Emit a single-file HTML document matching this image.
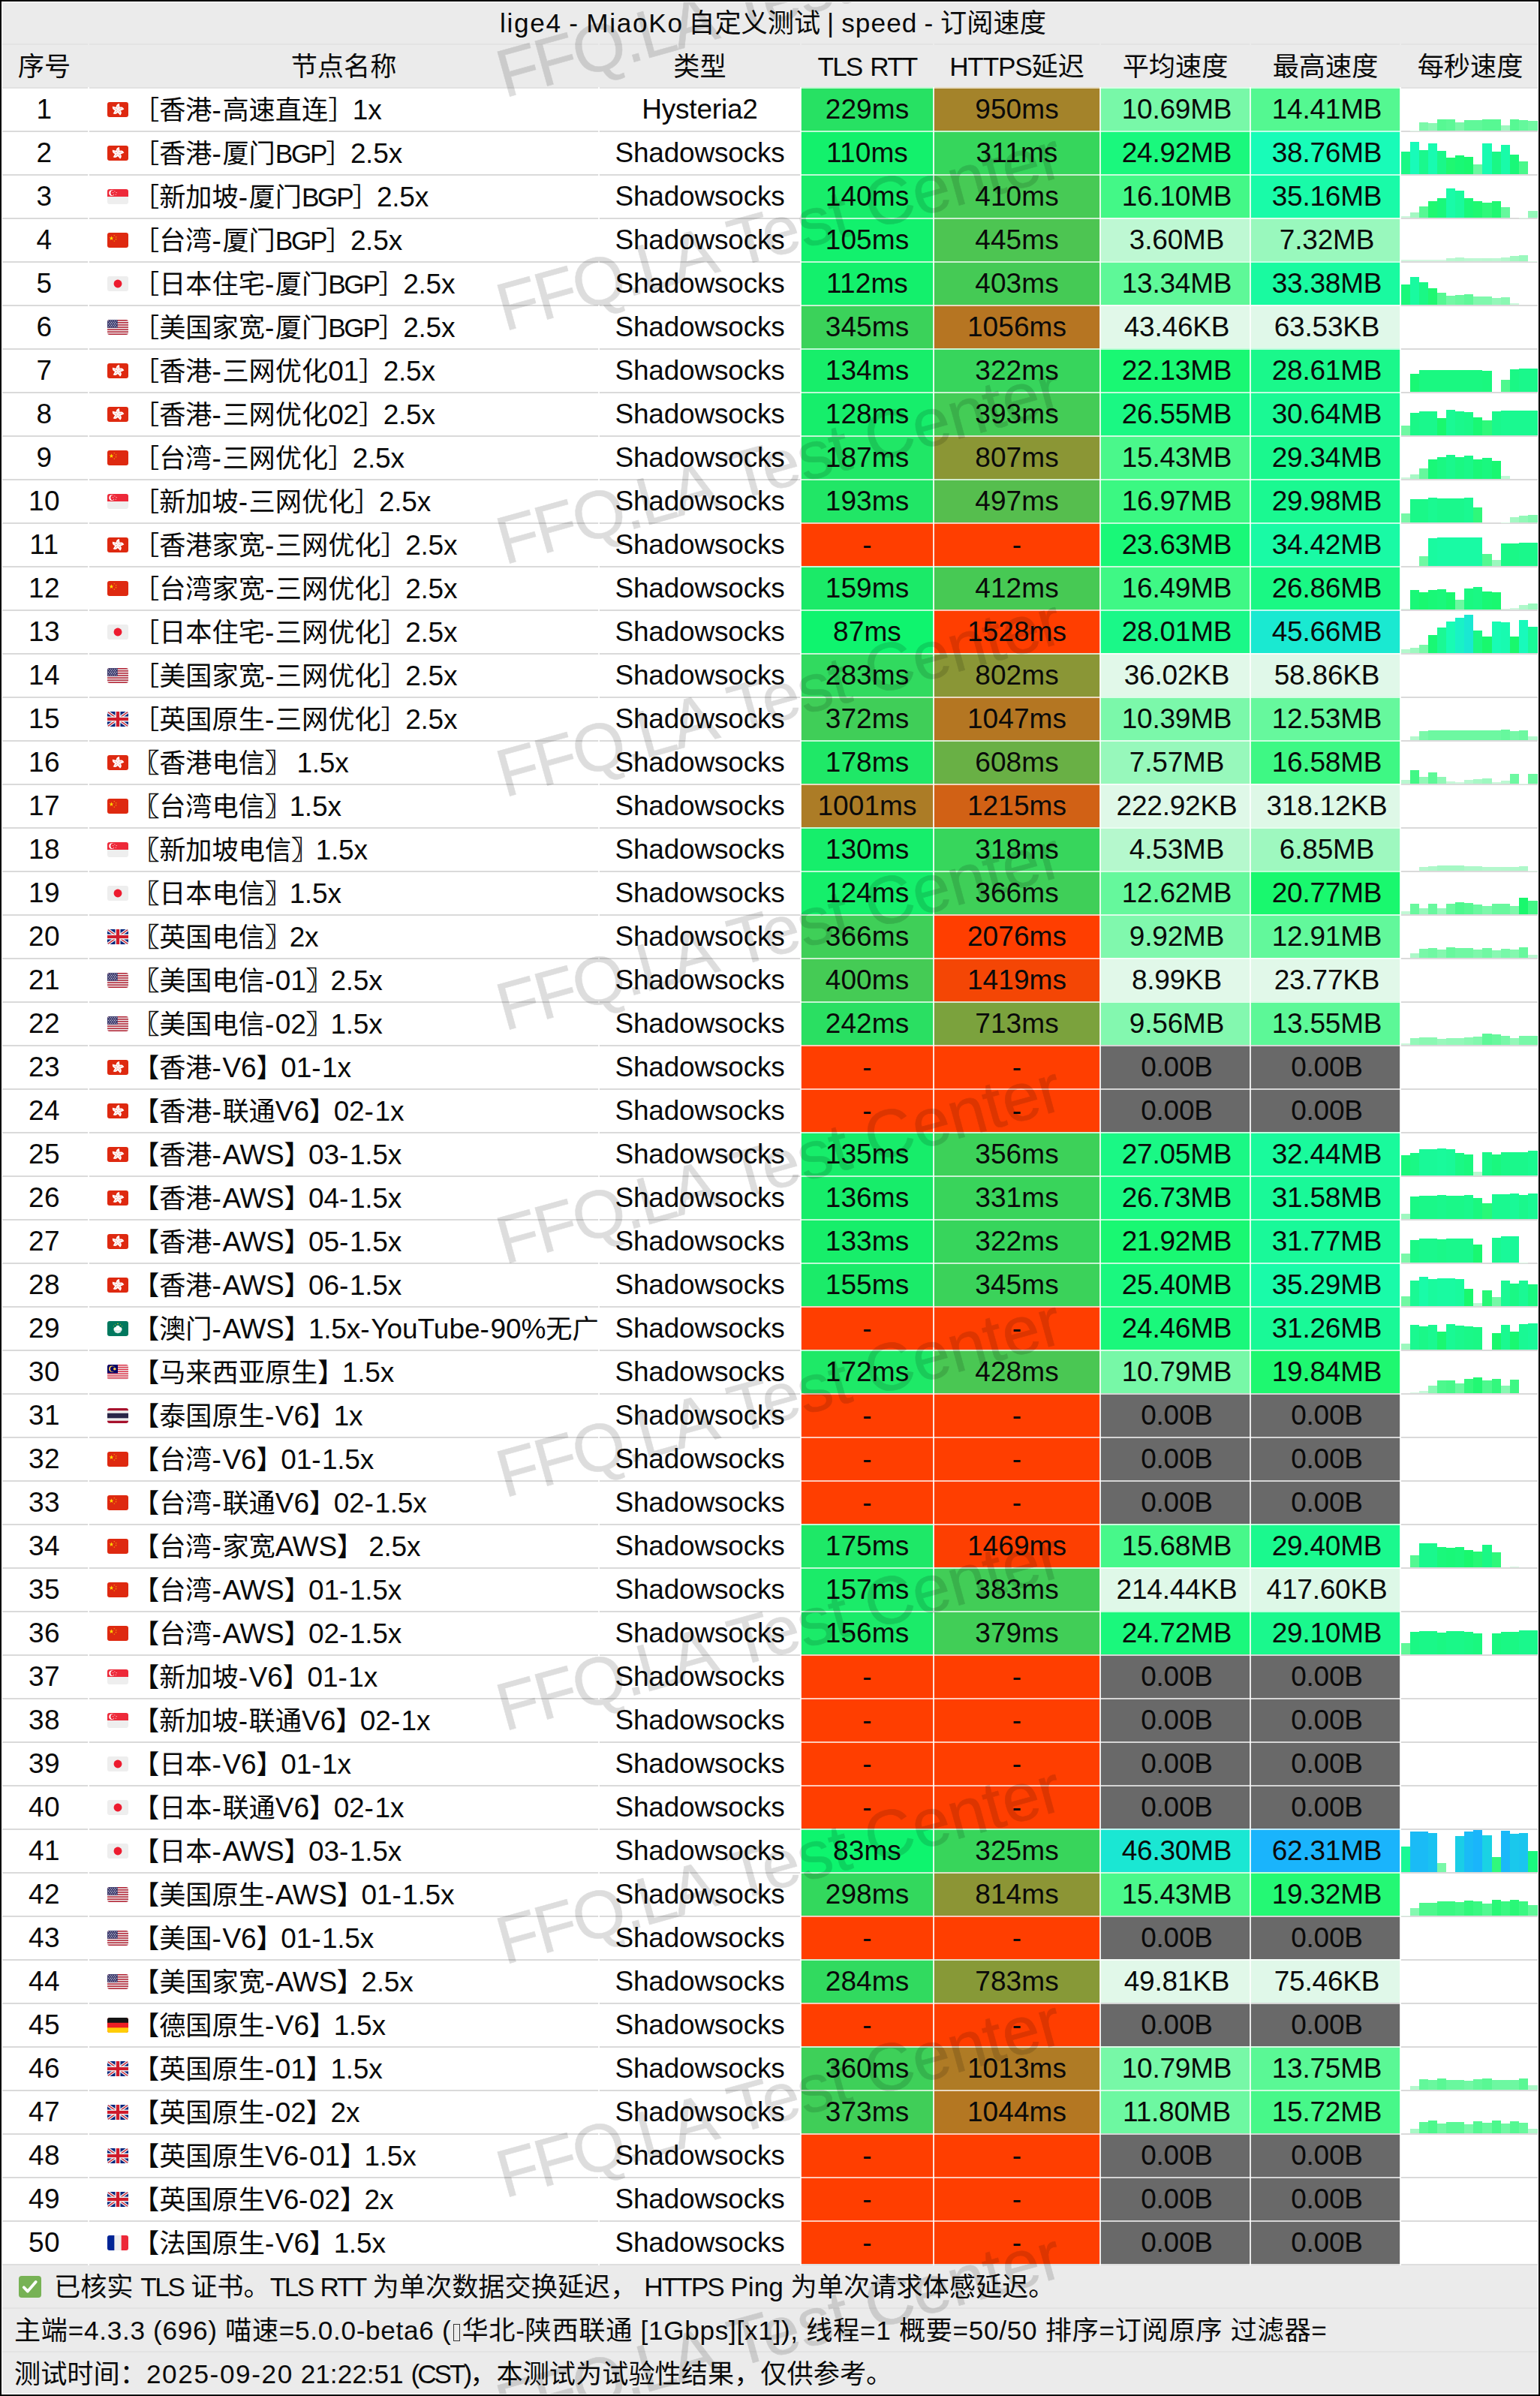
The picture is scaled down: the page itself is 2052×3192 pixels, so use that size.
<!DOCTYPE html><html lang="zh-CN"><head><meta charset="utf-8"><title>lige4 - MiaoKo</title><style>

html,body{margin:0;padding:0}
body{width:2052px;height:3192px;overflow:hidden;background:#fff}
#root{width:2052px;height:3192px;position:relative;overflow:hidden;background:#fff;font-family:"Liberation Sans","Noto Sans CJK SC",sans-serif;font-size:35.2px;color:#0a0a0a;-webkit-font-smoothing:antialiased}
.g{position:absolute;left:0;width:2052px;background:#ebebeb}
.hl{position:absolute;left:0;width:2052px;height:2px;background:#dadada}
.vl{position:absolute;width:2px;background:#fff}
.t{position:absolute;height:56px;line-height:56px;white-space:pre;overflow:hidden}
.c{text-align:center}
.cc{position:absolute;height:56px;line-height:56px;white-space:pre;text-align:center;border-top:2px solid rgba(255,255,255,.72);margin-top:-2px}
.fl{position:absolute;border-radius:3px;overflow:hidden;display:block}
.b{position:absolute}
.wm{position:absolute;white-space:pre;font-size:90px;line-height:90px;height:90px;color:#000;-webkit-text-stroke:.6px #000;opacity:.13;transform-origin:0 100%;transform:rotate(-15.5deg);letter-spacing:-.4px}
.wm span{letter-spacing:-3px}
.wb{-webkit-text-stroke:.7px #0a0a0a}
.hy{letter-spacing:1.5px;font-size:37px}
.dg{letter-spacing:-.1px;font-size:37px}
.cb{letter-spacing:-2.5px}
.bg{letter-spacing:-2.3px}
.up{letter-spacing:-.3px;font-size:37px}
.lc{letter-spacing:0;font-size:37px}
.ty{letter-spacing:-.2px;font-size:37px}
.dl{letter-spacing:.1px;font-size:37px}
.ds{letter-spacing:-.2px;font-size:37px;text-indent:4px}
.ix{letter-spacing:.5px;font-size:37px}

</style></head><body><div id="root">
<div class="g" style="top:0;height:116px"></div>
<div class="g" style="top:3016px;height:176px"></div>
<div class="hl" style="top:58px;background:#e3e3e3"></div>
<div class="hl" style="top:116px;background:#e2e2e2"></div>
<div class="hl" style="top:174px"></div>
<div class="hl" style="top:232px"></div>
<div class="hl" style="top:290px"></div>
<div class="hl" style="top:348px"></div>
<div class="hl" style="top:406px"></div>
<div class="hl" style="top:464px"></div>
<div class="hl" style="top:522px"></div>
<div class="hl" style="top:580px"></div>
<div class="hl" style="top:638px"></div>
<div class="hl" style="top:696px"></div>
<div class="hl" style="top:754px"></div>
<div class="hl" style="top:812px"></div>
<div class="hl" style="top:870px"></div>
<div class="hl" style="top:928px"></div>
<div class="hl" style="top:986px"></div>
<div class="hl" style="top:1044px"></div>
<div class="hl" style="top:1102px"></div>
<div class="hl" style="top:1160px"></div>
<div class="hl" style="top:1218px"></div>
<div class="hl" style="top:1276px"></div>
<div class="hl" style="top:1334px"></div>
<div class="hl" style="top:1392px"></div>
<div class="hl" style="top:1450px"></div>
<div class="hl" style="top:1508px"></div>
<div class="hl" style="top:1566px"></div>
<div class="hl" style="top:1624px"></div>
<div class="hl" style="top:1682px"></div>
<div class="hl" style="top:1740px"></div>
<div class="hl" style="top:1798px"></div>
<div class="hl" style="top:1856px"></div>
<div class="hl" style="top:1914px"></div>
<div class="hl" style="top:1972px"></div>
<div class="hl" style="top:2030px"></div>
<div class="hl" style="top:2088px"></div>
<div class="hl" style="top:2146px"></div>
<div class="hl" style="top:2204px"></div>
<div class="hl" style="top:2262px"></div>
<div class="hl" style="top:2320px"></div>
<div class="hl" style="top:2378px"></div>
<div class="hl" style="top:2436px"></div>
<div class="hl" style="top:2494px"></div>
<div class="hl" style="top:2552px"></div>
<div class="hl" style="top:2610px"></div>
<div class="hl" style="top:2668px"></div>
<div class="hl" style="top:2726px"></div>
<div class="hl" style="top:2784px"></div>
<div class="hl" style="top:2842px"></div>
<div class="hl" style="top:2900px"></div>
<div class="hl" style="top:2958px"></div>
<div class="hl" style="top:3016px;background:#dedede"></div>
<div class="hl" style="top:3074px;background:#e3e3e3"></div>
<div class="hl" style="top:3132px;background:#e3e3e3"></div>
<div class="t " style="left:666px;top:3px;width:900px;"><span style="letter-spacing:1.7px;word-spacing:-2px">lige4 - MiaoKo </span><span style="margin-left:-3px">自定义测试</span><span style="letter-spacing:1.1px;word-spacing:-2px"> | speed - </span>订阅速度</div>
<div class="t c" style="left:0px;top:61px;width:118px;">序号</div>
<div class="t c" style="left:118px;top:61px;width:680px;">节点名称</div>
<div class="t c" style="left:798px;top:61px;width:269px;">类型</div>
<div class="t c" style="left:1067px;top:61px;width:177px;"><span style="letter-spacing:-1.9px;word-spacing:3px">TLS RTT</span></div>
<div class="t c" style="left:1244px;top:61px;width:222px;"><span style="letter-spacing:-1.2px">HTTPS</span>延迟</div>
<div class="t c" style="left:1466px;top:61px;width:200px;">平均速度</div>
<div class="t c" style="left:1666px;top:61px;width:200px;">最高速度</div>
<div class="t c" style="left:1866px;top:61px;width:186px;">每秒速度</div>
<div class="t c ix" style="left:0px;top:118px;width:118px;">1</div>
<svg class="fl" style="left:143px;top:136px" width="28" height="20" viewBox="0 0 36 26" preserveAspectRatio="none"><rect width="36" height="26" fill="#DE2910"/><g transform="rotate(0 18 13)"><path fill="#fff" d="M18 13.500C15.600 12 14.300 8.800 15.700 5.800C16.600 3.900 18.600 2.700 20.900 2.700C20 4.400 21.200 6.300 21.200 8.400C21.200 10.600 20 12.600 18 13.500Z"/><path fill="none" stroke="#DE2910" stroke-width=".5" d="M18.400 11.600c-1-1.700-.9-3.500.3-5"/></g><g transform="rotate(72 18 13)"><path fill="#fff" d="M18 13.500C15.600 12 14.300 8.800 15.700 5.800C16.600 3.900 18.600 2.700 20.900 2.700C20 4.400 21.200 6.300 21.200 8.400C21.200 10.600 20 12.600 18 13.500Z"/><path fill="none" stroke="#DE2910" stroke-width=".5" d="M18.400 11.600c-1-1.700-.9-3.500.3-5"/></g><g transform="rotate(144 18 13)"><path fill="#fff" d="M18 13.500C15.600 12 14.300 8.800 15.700 5.800C16.600 3.900 18.600 2.700 20.900 2.700C20 4.400 21.200 6.300 21.200 8.400C21.200 10.600 20 12.600 18 13.500Z"/><path fill="none" stroke="#DE2910" stroke-width=".5" d="M18.400 11.600c-1-1.700-.9-3.500.3-5"/></g><g transform="rotate(216 18 13)"><path fill="#fff" d="M18 13.500C15.600 12 14.300 8.800 15.700 5.800C16.600 3.900 18.600 2.700 20.900 2.700C20 4.400 21.200 6.300 21.200 8.400C21.200 10.600 20 12.600 18 13.500Z"/><path fill="none" stroke="#DE2910" stroke-width=".5" d="M18.400 11.600c-1-1.700-.9-3.500.3-5"/></g><g transform="rotate(288 18 13)"><path fill="#fff" d="M18 13.500C15.600 12 14.300 8.800 15.700 5.800C16.600 3.900 18.600 2.700 20.900 2.700C20 4.400 21.200 6.300 21.200 8.400C21.200 10.600 20 12.600 18 13.500Z"/><path fill="none" stroke="#DE2910" stroke-width=".5" d="M18.400 11.600c-1-1.700-.9-3.500.3-5"/></g></svg>
<div class="t " style="left:177px;top:119px;width:620px;">［香港<span class="hy">-</span>高速直连<span class="cb">］</span><span class="dg">1</span><span class="lc">x</span></div>
<div class="t c ty" style="left:798px;top:118px;width:269px;">Hysteria2</div>
<div class="cc dl" style="left:1067px;top:118px;width:177px;background:#27e163">229ms</div>
<div class="cc dl" style="left:1244px;top:118px;width:222px;background:#a4832a">950ms</div>
<div class="cc ds" style="left:1466px;top:118px;width:200px;background:#78f8a8">10.69MB</div>
<div class="cc ds" style="left:1666px;top:118px;width:200px;background:#54f891">14.41MB</div>
<div class="b" style="left:1879px;top:173.5px;width:12px;height:0.5px;background:#ddf8e6"></div>
<div class="b" style="left:1891px;top:162.5px;width:12px;height:11.5px;background:#7bf8a9"></div>
<div class="b" style="left:1903px;top:164.3px;width:12px;height:9.7px;background:#8bf8b3"></div>
<div class="b" style="left:1915px;top:158.5px;width:12px;height:15.5px;background:#57f893"></div>
<div class="b" style="left:1927px;top:159.2px;width:12px;height:14.8px;background:#5df897"></div>
<div class="b" style="left:1939px;top:162.5px;width:12px;height:11.5px;background:#7bf8a9"></div>
<div class="b" style="left:1951px;top:159.5px;width:12px;height:14.5px;background:#60f899"></div>
<div class="b" style="left:1963px;top:159.5px;width:12px;height:14.5px;background:#60f899"></div>
<div class="b" style="left:1975px;top:158.5px;width:13px;height:15.5px;background:#57f893"></div>
<div class="b" style="left:1988px;top:158.5px;width:12px;height:15.5px;background:#57f893"></div>
<div class="b" style="left:2000px;top:166.5px;width:12px;height:7.5px;background:#9ef8c0"></div>
<div class="b" style="left:2012px;top:158.5px;width:12px;height:15.5px;background:#57f893"></div>
<div class="b" style="left:2024px;top:160.0px;width:12px;height:14.0px;background:#64f89c"></div>
<div class="b" style="left:2036px;top:161.4px;width:14px;height:12.6px;background:#71f8a3"></div>
<div class="t c ix" style="left:0px;top:176px;width:118px;">2</div>
<svg class="fl" style="left:143px;top:194px" width="28" height="20" viewBox="0 0 36 26" preserveAspectRatio="none"><rect width="36" height="26" fill="#DE2910"/><g transform="rotate(0 18 13)"><path fill="#fff" d="M18 13.500C15.600 12 14.300 8.800 15.700 5.800C16.600 3.900 18.600 2.700 20.900 2.700C20 4.400 21.200 6.300 21.200 8.400C21.200 10.600 20 12.600 18 13.500Z"/><path fill="none" stroke="#DE2910" stroke-width=".5" d="M18.400 11.600c-1-1.700-.9-3.500.3-5"/></g><g transform="rotate(72 18 13)"><path fill="#fff" d="M18 13.500C15.600 12 14.300 8.800 15.700 5.800C16.600 3.900 18.600 2.700 20.900 2.700C20 4.400 21.200 6.300 21.200 8.400C21.200 10.600 20 12.600 18 13.500Z"/><path fill="none" stroke="#DE2910" stroke-width=".5" d="M18.400 11.600c-1-1.700-.9-3.500.3-5"/></g><g transform="rotate(144 18 13)"><path fill="#fff" d="M18 13.500C15.600 12 14.300 8.800 15.700 5.800C16.600 3.900 18.600 2.700 20.900 2.700C20 4.400 21.200 6.300 21.200 8.400C21.200 10.600 20 12.600 18 13.500Z"/><path fill="none" stroke="#DE2910" stroke-width=".5" d="M18.400 11.600c-1-1.700-.9-3.500.3-5"/></g><g transform="rotate(216 18 13)"><path fill="#fff" d="M18 13.500C15.600 12 14.300 8.800 15.700 5.800C16.600 3.900 18.600 2.700 20.900 2.700C20 4.400 21.200 6.300 21.200 8.400C21.200 10.600 20 12.600 18 13.500Z"/><path fill="none" stroke="#DE2910" stroke-width=".5" d="M18.400 11.600c-1-1.700-.9-3.500.3-5"/></g><g transform="rotate(288 18 13)"><path fill="#fff" d="M18 13.500C15.600 12 14.300 8.800 15.700 5.800C16.600 3.900 18.600 2.700 20.900 2.700C20 4.400 21.200 6.300 21.200 8.400C21.200 10.600 20 12.600 18 13.500Z"/><path fill="none" stroke="#DE2910" stroke-width=".5" d="M18.400 11.600c-1-1.700-.9-3.500.3-5"/></g></svg>
<div class="t " style="left:177px;top:177px;width:620px;">［香港<span class="hy">-</span>厦门<span class="bg">BGP</span><span class="cb">］</span><span class="dg">2</span>.<span class="dg">5</span><span class="lc">x</span></div>
<div class="t c ty" style="left:798px;top:176px;width:269px;">Shadowsocks</div>
<div class="cc dl" style="left:1067px;top:176px;width:177px;background:#13f16c">110ms</div>
<div class="cc dl" style="left:1244px;top:176px;width:222px;background:#36d65c">311ms</div>
<div class="cc ds" style="left:1466px;top:176px;width:200px;background:#1af87d">24.92MB</div>
<div class="cc ds" style="left:1666px;top:176px;width:200px;background:#18fcb8">38.76MB</div>
<div class="b" style="left:1867px;top:202.0px;width:12px;height:30.0px;background:#1af885"></div>
<div class="b" style="left:1879px;top:189.0px;width:12px;height:43.0px;background:#18fbb9"></div>
<div class="b" style="left:1891px;top:200.0px;width:12px;height:32.0px;background:#1af88d"></div>
<div class="b" style="left:1903px;top:191.3px;width:12px;height:40.7px;background:#18fbb0"></div>
<div class="b" style="left:1915px;top:201.0px;width:12px;height:31.0px;background:#1af889"></div>
<div class="b" style="left:1927px;top:210.2px;width:12px;height:21.8px;background:#1ff871"></div>
<div class="b" style="left:1939px;top:207.0px;width:12px;height:25.0px;background:#19f875"></div>
<div class="b" style="left:1951px;top:209.0px;width:12px;height:23.0px;background:#19f86f"></div>
<div class="b" style="left:1963px;top:219.0px;width:12px;height:13.0px;background:#6df8a1"></div>
<div class="b" style="left:1975px;top:191.0px;width:13px;height:41.0px;background:#18fbb1"></div>
<div class="b" style="left:1988px;top:202.0px;width:12px;height:30.0px;background:#1af885"></div>
<div class="b" style="left:2000px;top:193.0px;width:12px;height:39.0px;background:#19fba9"></div>
<div class="b" style="left:2012px;top:206.0px;width:12px;height:26.0px;background:#19f878"></div>
<div class="b" style="left:2024px;top:215.0px;width:12px;height:17.0px;background:#49f88b"></div>
<div class="t c ix" style="left:0px;top:234px;width:118px;">3</div>
<svg class="fl" style="left:143px;top:252px" width="28" height="20" viewBox="0 0 36 26" preserveAspectRatio="none"><rect width="36" height="26" fill="#EEE"/><rect width="36" height="13" fill="#ED2939"/><circle cx="8" cy="6.600" r="5.100" fill="#fff"/><circle cx="10.200" cy="6.600" r="4.600" fill="#ED2939"/><polygon fill="#fff" points="12.70,2.75 12.96,3.54 13.79,3.54 13.12,4.04 13.38,4.83 12.70,4.34 12.02,4.83 12.28,4.04 11.61,3.54 12.44,3.54"/><polygon fill="#fff" points="15.55,4.82 15.81,5.62 16.65,5.62 15.97,6.11 16.23,6.90 15.55,6.41 14.88,6.90 15.14,6.11 14.46,5.62 15.29,5.62"/><polygon fill="#fff" points="14.46,8.18 14.72,8.97 15.56,8.97 14.88,9.46 15.14,10.26 14.46,9.77 13.79,10.26 14.05,9.46 13.37,8.97 14.21,8.97"/><polygon fill="#fff" points="10.94,8.18 11.19,8.97 12.03,8.97 11.35,9.46 11.61,10.26 10.94,9.77 10.26,10.26 10.52,9.46 9.84,8.97 10.68,8.97"/><polygon fill="#fff" points="9.85,4.82 10.11,5.62 10.94,5.62 10.26,6.11 10.52,6.90 9.85,6.41 9.17,6.90 9.43,6.11 8.75,5.62 9.59,5.62"/></svg>
<div class="t " style="left:177px;top:235px;width:620px;">［新加坡<span class="hy">-</span>厦门<span class="bg">BGP</span><span class="cb">］</span><span class="dg">2</span>.<span class="dg">5</span><span class="lc">x</span></div>
<div class="t c ty" style="left:798px;top:234px;width:269px;">Shadowsocks</div>
<div class="cc dl" style="left:1067px;top:234px;width:177px;background:#18ed6a">140ms</div>
<div class="cc dl" style="left:1244px;top:234px;width:222px;background:#47ca55">410ms</div>
<div class="cc ds" style="left:1466px;top:234px;width:200px;background:#43f887">16.10MB</div>
<div class="cc ds" style="left:1666px;top:234px;width:200px;background:#19fba8">35.16MB</div>
<div class="b" style="left:1867px;top:287.5px;width:12px;height:2.5px;background:#cbf8db"></div>
<div class="b" style="left:1879px;top:283.0px;width:12px;height:7.0px;background:#a3f8c2"></div>
<div class="b" style="left:1891px;top:274.5px;width:12px;height:15.5px;background:#57f893"></div>
<div class="b" style="left:1903px;top:268.2px;width:12px;height:21.8px;background:#1ff871"></div>
<div class="b" style="left:1915px;top:263.6px;width:12px;height:26.4px;background:#19f87a"></div>
<div class="b" style="left:1927px;top:251.2px;width:12px;height:38.8px;background:#19fba8"></div>
<div class="b" style="left:1939px;top:254.0px;width:12px;height:36.0px;background:#19fa9d"></div>
<div class="b" style="left:1951px;top:264.3px;width:12px;height:25.7px;background:#19f878"></div>
<div class="b" style="left:1963px;top:268.2px;width:12px;height:21.8px;background:#1ff871"></div>
<div class="b" style="left:1975px;top:270.0px;width:13px;height:20.0px;background:#2ff87a"></div>
<div class="b" style="left:1988px;top:268.2px;width:12px;height:21.8px;background:#1ff871"></div>
<div class="b" style="left:2000px;top:276.2px;width:12px;height:13.8px;background:#66f89d"></div>
<div class="b" style="left:2024px;top:289.5px;width:12px;height:0.5px;background:#ddf8e6"></div>
<div class="b" style="left:2036px;top:281.3px;width:14px;height:8.7px;background:#93f8b9"></div>
<div class="t c ix" style="left:0px;top:292px;width:118px;">4</div>
<svg class="fl" style="left:143px;top:310px" width="28" height="20" viewBox="0 0 36 26" preserveAspectRatio="none"><rect width="36" height="26" fill="#DE2910"/><polygon fill="#FFDE02" points="7.00,5.60 7.92,8.43 10.90,8.43 8.49,10.18 9.41,13.02 7.00,11.27 4.59,13.02 5.51,10.18 3.10,8.43 6.08,8.43"/><polygon fill="#FFDE02" points="12.53,3.82 12.34,4.71 13.12,5.16 12.22,5.25 12.03,6.14 11.66,5.31 10.76,5.41 11.43,4.80 11.06,3.97 11.85,4.43"/><polygon fill="#FFDE02" points="16.08,7.08 15.47,7.75 15.93,8.54 15.10,8.17 14.49,8.84 14.59,7.94 13.76,7.57 14.65,7.38 14.74,6.48 15.19,7.26"/><polygon fill="#FFDE02" points="14.90,10.25 15.18,11.11 16.09,11.11 15.35,11.65 15.63,12.51 14.90,11.98 14.17,12.51 14.45,11.65 13.71,11.11 14.62,11.11"/><polygon fill="#FFDE02" points="12.62,13.32 12.44,14.21 13.22,14.66 12.32,14.75 12.13,15.64 11.76,14.81 10.86,14.91 11.53,14.30 11.16,13.47 11.95,13.93"/></svg>
<div class="t " style="left:177px;top:293px;width:620px;">［台湾<span class="hy">-</span>厦门<span class="bg">BGP</span><span class="cb">］</span><span class="dg">2</span>.<span class="dg">5</span><span class="lc">x</span></div>
<div class="t c ty" style="left:798px;top:292px;width:269px;">Shadowsocks</div>
<div class="cc dl" style="left:1067px;top:292px;width:177px;background:#12f16d">105ms</div>
<div class="cc dl" style="left:1244px;top:292px;width:222px;background:#4dc552">445ms</div>
<div class="cc ds" style="left:1466px;top:292px;width:200px;background:#bef8d3">3.60MB</div>
<div class="cc ds" style="left:1666px;top:292px;width:200px;background:#99f8bd">7.32MB</div>
<div class="b" style="left:1867px;top:346.3px;width:12px;height:1.7px;background:#d2f8e0"></div>
<div class="b" style="left:1879px;top:346.3px;width:12px;height:1.7px;background:#d2f8e0"></div>
<div class="b" style="left:1891px;top:346.3px;width:12px;height:1.7px;background:#d2f8e0"></div>
<div class="b" style="left:1903px;top:346.3px;width:12px;height:1.7px;background:#d2f8e0"></div>
<div class="b" style="left:1915px;top:346.3px;width:12px;height:1.7px;background:#d2f8e0"></div>
<div class="b" style="left:1927px;top:343.5px;width:12px;height:4.5px;background:#b9f8d0"></div>
<div class="b" style="left:1939px;top:343.2px;width:12px;height:4.8px;background:#b6f8ce"></div>
<div class="b" style="left:1951px;top:343.8px;width:12px;height:4.2px;background:#bcf8d2"></div>
<div class="b" style="left:1963px;top:344.0px;width:12px;height:4.0px;background:#bdf8d3"></div>
<div class="b" style="left:1975px;top:343.7px;width:13px;height:4.3px;background:#bbf8d1"></div>
<div class="b" style="left:1988px;top:344.0px;width:12px;height:4.0px;background:#bdf8d3"></div>
<div class="b" style="left:2000px;top:343.0px;width:12px;height:5.0px;background:#b4f8cd"></div>
<div class="b" style="left:2012px;top:341.0px;width:12px;height:7.0px;background:#a3f8c2"></div>
<div class="b" style="left:2024px;top:340.0px;width:12px;height:8.0px;background:#9af8bd"></div>
<div class="b" style="left:2036px;top:347.5px;width:14px;height:0.5px;background:#ddf8e6"></div>
<div class="t c ix" style="left:0px;top:350px;width:118px;">5</div>
<svg class="fl" style="left:143px;top:368px" width="28" height="20" viewBox="0 0 36 26" preserveAspectRatio="none"><rect width="36" height="26" fill="#EEE"/><circle cx="18" cy="13" r="7" fill="#ED1B2F"/></svg>
<div class="t " style="left:177px;top:351px;width:620px;">［日本住宅<span class="hy">-</span>厦门<span class="bg">BGP</span><span class="cb">］</span><span class="dg">2</span>.<span class="dg">5</span><span class="lc">x</span></div>
<div class="t c ty" style="left:798px;top:350px;width:269px;">Shadowsocks</div>
<div class="cc dl" style="left:1067px;top:350px;width:177px;background:#13f06c">112ms</div>
<div class="cc dl" style="left:1244px;top:350px;width:222px;background:#45ca55">403ms</div>
<div class="cc ds" style="left:1466px;top:350px;width:200px;background:#5ef898">13.34MB</div>
<div class="cc ds" style="left:1666px;top:350px;width:200px;background:#19faa0">33.38MB</div>
<div class="b" style="left:1867px;top:379.4px;width:12px;height:26.6px;background:#19f87a"></div>
<div class="b" style="left:1879px;top:369.3px;width:12px;height:36.7px;background:#19faa0"></div>
<div class="b" style="left:1891px;top:376.2px;width:12px;height:29.8px;background:#1af885"></div>
<div class="b" style="left:1903px;top:384.2px;width:12px;height:21.8px;background:#1ff871"></div>
<div class="b" style="left:1915px;top:390.3px;width:12px;height:15.7px;background:#55f892"></div>
<div class="b" style="left:1927px;top:393.7px;width:12px;height:12.3px;background:#73f8a5"></div>
<div class="b" style="left:1939px;top:392.6px;width:12px;height:13.4px;background:#6af89f"></div>
<div class="b" style="left:1951px;top:391.5px;width:12px;height:14.5px;background:#60f899"></div>
<div class="b" style="left:1963px;top:395.1px;width:12px;height:10.9px;background:#80f8ad"></div>
<div class="b" style="left:1975px;top:395.1px;width:13px;height:10.9px;background:#80f8ad"></div>
<div class="b" style="left:1988px;top:397.3px;width:12px;height:8.7px;background:#93f8b9"></div>
<div class="b" style="left:2000px;top:396.3px;width:12px;height:9.7px;background:#8bf8b3"></div>
<div class="b" style="left:2012px;top:403.5px;width:12px;height:2.5px;background:#cbf8db"></div>
<div class="t c ix" style="left:0px;top:408px;width:118px;">6</div>
<svg class="fl" style="left:143px;top:426px" width="28" height="20" viewBox="0 0 36 26" preserveAspectRatio="none"><rect width="36" height="26" fill="#EEE"/><rect y="0" width="36" height="2" fill="#B22334"/><rect y="4" width="36" height="2" fill="#B22334"/><rect y="8" width="36" height="2" fill="#B22334"/><rect y="12" width="36" height="2" fill="#B22334"/><rect y="16" width="36" height="2" fill="#B22334"/><rect y="20" width="36" height="2" fill="#B22334"/><rect y="24" width="36" height="2" fill="#B22334"/><rect width="17.600" height="14" fill="#3C3B6E"/><circle cx="2.20" cy="1.90" r=".7" fill="#fff"/><circle cx="5.50" cy="1.90" r=".7" fill="#fff"/><circle cx="8.80" cy="1.90" r=".7" fill="#fff"/><circle cx="12.10" cy="1.90" r=".7" fill="#fff"/><circle cx="15.40" cy="1.90" r=".7" fill="#fff"/><circle cx="3.85" cy="4.45" r=".7" fill="#fff"/><circle cx="7.15" cy="4.45" r=".7" fill="#fff"/><circle cx="10.45" cy="4.45" r=".7" fill="#fff"/><circle cx="13.75" cy="4.45" r=".7" fill="#fff"/><circle cx="2.20" cy="7.00" r=".7" fill="#fff"/><circle cx="5.50" cy="7.00" r=".7" fill="#fff"/><circle cx="8.80" cy="7.00" r=".7" fill="#fff"/><circle cx="12.10" cy="7.00" r=".7" fill="#fff"/><circle cx="15.40" cy="7.00" r=".7" fill="#fff"/><circle cx="3.85" cy="9.55" r=".7" fill="#fff"/><circle cx="7.15" cy="9.55" r=".7" fill="#fff"/><circle cx="10.45" cy="9.55" r=".7" fill="#fff"/><circle cx="13.75" cy="9.55" r=".7" fill="#fff"/><circle cx="2.20" cy="12.10" r=".7" fill="#fff"/><circle cx="5.50" cy="12.10" r=".7" fill="#fff"/><circle cx="8.80" cy="12.10" r=".7" fill="#fff"/><circle cx="12.10" cy="12.10" r=".7" fill="#fff"/><circle cx="15.40" cy="12.10" r=".7" fill="#fff"/></svg>
<div class="t " style="left:177px;top:409px;width:620px;">［美国家宽<span class="hy">-</span>厦门<span class="bg">BGP</span><span class="cb">］</span><span class="dg">2</span>.<span class="dg">5</span><span class="lc">x</span></div>
<div class="t c ty" style="left:798px;top:408px;width:269px;">Shadowsocks</div>
<div class="cc dl" style="left:1067px;top:408px;width:177px;background:#3bd25a">345ms</div>
<div class="cc dl" style="left:1244px;top:408px;width:222px;background:#b67522">1056ms</div>
<div class="cc ds" style="left:1466px;top:408px;width:200px;background:#e1f8e9">43.46KB</div>
<div class="cc ds" style="left:1666px;top:408px;width:200px;background:#e0f8e9">63.53KB</div>
<div class="t c ix" style="left:0px;top:466px;width:118px;">7</div>
<svg class="fl" style="left:143px;top:484px" width="28" height="20" viewBox="0 0 36 26" preserveAspectRatio="none"><rect width="36" height="26" fill="#DE2910"/><g transform="rotate(0 18 13)"><path fill="#fff" d="M18 13.500C15.600 12 14.300 8.800 15.700 5.800C16.600 3.900 18.600 2.700 20.900 2.700C20 4.400 21.200 6.300 21.200 8.400C21.200 10.600 20 12.600 18 13.500Z"/><path fill="none" stroke="#DE2910" stroke-width=".5" d="M18.400 11.600c-1-1.700-.9-3.500.3-5"/></g><g transform="rotate(72 18 13)"><path fill="#fff" d="M18 13.500C15.600 12 14.300 8.800 15.700 5.800C16.600 3.900 18.600 2.700 20.900 2.700C20 4.400 21.200 6.300 21.200 8.400C21.200 10.600 20 12.600 18 13.500Z"/><path fill="none" stroke="#DE2910" stroke-width=".5" d="M18.400 11.600c-1-1.700-.9-3.500.3-5"/></g><g transform="rotate(144 18 13)"><path fill="#fff" d="M18 13.500C15.600 12 14.300 8.800 15.700 5.800C16.600 3.900 18.600 2.700 20.900 2.700C20 4.400 21.200 6.300 21.200 8.400C21.200 10.600 20 12.600 18 13.500Z"/><path fill="none" stroke="#DE2910" stroke-width=".5" d="M18.400 11.600c-1-1.700-.9-3.500.3-5"/></g><g transform="rotate(216 18 13)"><path fill="#fff" d="M18 13.500C15.600 12 14.300 8.800 15.700 5.800C16.600 3.900 18.600 2.700 20.900 2.700C20 4.400 21.200 6.300 21.200 8.400C21.200 10.600 20 12.600 18 13.500Z"/><path fill="none" stroke="#DE2910" stroke-width=".5" d="M18.400 11.600c-1-1.700-.9-3.500.3-5"/></g><g transform="rotate(288 18 13)"><path fill="#fff" d="M18 13.500C15.600 12 14.300 8.800 15.700 5.800C16.600 3.900 18.600 2.700 20.900 2.700C20 4.400 21.200 6.300 21.200 8.400C21.200 10.600 20 12.600 18 13.500Z"/><path fill="none" stroke="#DE2910" stroke-width=".5" d="M18.400 11.600c-1-1.700-.9-3.500.3-5"/></g></svg>
<div class="t " style="left:177px;top:467px;width:620px;">［香港<span class="hy">-</span>三网优化<span class="dg">01</span><span class="cb">］</span><span class="dg">2</span>.<span class="dg">5</span><span class="lc">x</span></div>
<div class="t c ty" style="left:798px;top:466px;width:269px;">Shadowsocks</div>
<div class="cc dl" style="left:1067px;top:466px;width:177px;background:#17ee6a">134ms</div>
<div class="cc dl" style="left:1244px;top:466px;width:222px;background:#37d55c">322ms</div>
<div class="cc ds" style="left:1466px;top:466px;width:200px;background:#19f873">22.13MB</div>
<div class="cc ds" style="left:1666px;top:466px;width:200px;background:#1af88b">28.61MB</div>
<div class="b" style="left:1879px;top:497.5px;width:12px;height:24.5px;background:#19f874"></div>
<div class="b" style="left:1891px;top:493.4px;width:12px;height:28.6px;background:#1af881"></div>
<div class="b" style="left:1903px;top:493.4px;width:12px;height:28.6px;background:#1af881"></div>
<div class="b" style="left:1915px;top:493.4px;width:12px;height:28.6px;background:#1af881"></div>
<div class="b" style="left:1927px;top:493.4px;width:12px;height:28.6px;background:#1af881"></div>
<div class="b" style="left:1939px;top:493.4px;width:12px;height:28.6px;background:#1af881"></div>
<div class="b" style="left:1951px;top:493.4px;width:12px;height:28.6px;background:#1af881"></div>
<div class="b" style="left:1963px;top:493.4px;width:12px;height:28.6px;background:#1af881"></div>
<div class="b" style="left:1975px;top:494.4px;width:13px;height:27.6px;background:#1af87e"></div>
<div class="b" style="left:2000px;top:505.5px;width:12px;height:16.5px;background:#4ef88e"></div>
<div class="b" style="left:2012px;top:492.0px;width:12px;height:30.0px;background:#1af885"></div>
<div class="b" style="left:2024px;top:490.5px;width:12px;height:31.5px;background:#1af88b"></div>
<div class="b" style="left:2036px;top:490.5px;width:14px;height:31.5px;background:#1af88b"></div>
<div class="t c ix" style="left:0px;top:524px;width:118px;">8</div>
<svg class="fl" style="left:143px;top:542px" width="28" height="20" viewBox="0 0 36 26" preserveAspectRatio="none"><rect width="36" height="26" fill="#DE2910"/><g transform="rotate(0 18 13)"><path fill="#fff" d="M18 13.500C15.600 12 14.300 8.800 15.700 5.800C16.600 3.900 18.600 2.700 20.900 2.700C20 4.400 21.200 6.300 21.200 8.400C21.200 10.600 20 12.600 18 13.500Z"/><path fill="none" stroke="#DE2910" stroke-width=".5" d="M18.400 11.600c-1-1.700-.9-3.500.3-5"/></g><g transform="rotate(72 18 13)"><path fill="#fff" d="M18 13.500C15.600 12 14.300 8.800 15.700 5.800C16.600 3.900 18.600 2.700 20.900 2.700C20 4.400 21.200 6.300 21.200 8.400C21.200 10.600 20 12.600 18 13.500Z"/><path fill="none" stroke="#DE2910" stroke-width=".5" d="M18.400 11.600c-1-1.700-.9-3.500.3-5"/></g><g transform="rotate(144 18 13)"><path fill="#fff" d="M18 13.500C15.600 12 14.300 8.800 15.700 5.800C16.600 3.900 18.600 2.700 20.900 2.700C20 4.400 21.200 6.300 21.200 8.400C21.200 10.600 20 12.600 18 13.500Z"/><path fill="none" stroke="#DE2910" stroke-width=".5" d="M18.400 11.600c-1-1.700-.9-3.500.3-5"/></g><g transform="rotate(216 18 13)"><path fill="#fff" d="M18 13.500C15.600 12 14.300 8.800 15.700 5.800C16.600 3.900 18.600 2.700 20.900 2.700C20 4.400 21.200 6.300 21.200 8.400C21.200 10.600 20 12.600 18 13.500Z"/><path fill="none" stroke="#DE2910" stroke-width=".5" d="M18.400 11.600c-1-1.700-.9-3.500.3-5"/></g><g transform="rotate(288 18 13)"><path fill="#fff" d="M18 13.500C15.600 12 14.300 8.800 15.700 5.800C16.600 3.900 18.600 2.700 20.900 2.700C20 4.400 21.200 6.300 21.200 8.400C21.200 10.600 20 12.600 18 13.500Z"/><path fill="none" stroke="#DE2910" stroke-width=".5" d="M18.400 11.600c-1-1.700-.9-3.500.3-5"/></g></svg>
<div class="t " style="left:177px;top:525px;width:620px;">［香港<span class="hy">-</span>三网优化<span class="dg">02</span><span class="cb">］</span><span class="dg">2</span>.<span class="dg">5</span><span class="lc">x</span></div>
<div class="t c ty" style="left:798px;top:524px;width:269px;">Shadowsocks</div>
<div class="cc dl" style="left:1067px;top:524px;width:177px;background:#16ee6b">128ms</div>
<div class="cc dl" style="left:1244px;top:524px;width:222px;background:#44cc56">393ms</div>
<div class="cc ds" style="left:1466px;top:524px;width:200px;background:#1af883">26.55MB</div>
<div class="cc ds" style="left:1666px;top:524px;width:200px;background:#1af994">30.64MB</div>
<div class="b" style="left:1867px;top:567.4px;width:12px;height:12.6px;background:#71f8a3"></div>
<div class="b" style="left:1879px;top:549.6px;width:12px;height:30.4px;background:#1af887"></div>
<div class="b" style="left:1891px;top:548.2px;width:12px;height:31.8px;background:#1af88c"></div>
<div class="b" style="left:1903px;top:548.2px;width:12px;height:31.8px;background:#1af88c"></div>
<div class="b" style="left:1915px;top:557.2px;width:12px;height:22.8px;background:#19f86e"></div>
<div class="b" style="left:1927px;top:546.3px;width:12px;height:33.7px;background:#1af994"></div>
<div class="b" style="left:1939px;top:548.2px;width:12px;height:31.8px;background:#1af88c"></div>
<div class="b" style="left:1951px;top:549.2px;width:12px;height:30.8px;background:#1af888"></div>
<div class="b" style="left:1963px;top:555.5px;width:12px;height:24.5px;background:#19f874"></div>
<div class="b" style="left:1975px;top:560.0px;width:13px;height:20.0px;background:#2ff87a"></div>
<div class="b" style="left:1988px;top:548.2px;width:12px;height:31.8px;background:#1af88c"></div>
<div class="b" style="left:2000px;top:547.3px;width:12px;height:32.7px;background:#1af990"></div>
<div class="b" style="left:2012px;top:547.3px;width:12px;height:32.7px;background:#1af990"></div>
<div class="b" style="left:2024px;top:547.3px;width:12px;height:32.7px;background:#1af990"></div>
<div class="b" style="left:2036px;top:547.3px;width:14px;height:32.7px;background:#1af990"></div>
<div class="t c ix" style="left:0px;top:582px;width:118px;">9</div>
<svg class="fl" style="left:143px;top:600px" width="28" height="20" viewBox="0 0 36 26" preserveAspectRatio="none"><rect width="36" height="26" fill="#DE2910"/><polygon fill="#FFDE02" points="7.00,5.60 7.92,8.43 10.90,8.43 8.49,10.18 9.41,13.02 7.00,11.27 4.59,13.02 5.51,10.18 3.10,8.43 6.08,8.43"/><polygon fill="#FFDE02" points="12.53,3.82 12.34,4.71 13.12,5.16 12.22,5.25 12.03,6.14 11.66,5.31 10.76,5.41 11.43,4.80 11.06,3.97 11.85,4.43"/><polygon fill="#FFDE02" points="16.08,7.08 15.47,7.75 15.93,8.54 15.10,8.17 14.49,8.84 14.59,7.94 13.76,7.57 14.65,7.38 14.74,6.48 15.19,7.26"/><polygon fill="#FFDE02" points="14.90,10.25 15.18,11.11 16.09,11.11 15.35,11.65 15.63,12.51 14.90,11.98 14.17,12.51 14.45,11.65 13.71,11.11 14.62,11.11"/><polygon fill="#FFDE02" points="12.62,13.32 12.44,14.21 13.22,14.66 12.32,14.75 12.13,15.64 11.76,14.81 10.86,14.91 11.53,14.30 11.16,13.47 11.95,13.93"/></svg>
<div class="t " style="left:177px;top:583px;width:620px;">［台湾<span class="hy">-</span>三网优化<span class="cb">］</span><span class="dg">2</span>.<span class="dg">5</span><span class="lc">x</span></div>
<div class="t c ty" style="left:798px;top:582px;width:269px;">Shadowsocks</div>
<div class="cc dl" style="left:1067px;top:582px;width:177px;background:#20e766">187ms</div>
<div class="cc dl" style="left:1244px;top:582px;width:222px;background:#8b9635">807ms</div>
<div class="cc ds" style="left:1466px;top:582px;width:200px;background:#4af88b">15.43MB</div>
<div class="cc ds" style="left:1666px;top:582px;width:200px;background:#1af88e">29.34MB</div>
<div class="b" style="left:1867px;top:635.5px;width:12px;height:2.5px;background:#cbf8db"></div>
<div class="b" style="left:1879px;top:631.5px;width:12px;height:6.5px;background:#a7f8c5"></div>
<div class="b" style="left:1891px;top:624.2px;width:12px;height:13.8px;background:#66f89d"></div>
<div class="b" style="left:1903px;top:612.3px;width:12px;height:25.7px;background:#19f878"></div>
<div class="b" style="left:1915px;top:609.0px;width:12px;height:29.0px;background:#1af882"></div>
<div class="b" style="left:1927px;top:606.2px;width:12px;height:31.8px;background:#1af88c"></div>
<div class="b" style="left:1939px;top:609.0px;width:12px;height:29.0px;background:#1af882"></div>
<div class="b" style="left:1951px;top:607.2px;width:12px;height:30.8px;background:#1af888"></div>
<div class="b" style="left:1963px;top:612.3px;width:12px;height:25.7px;background:#19f878"></div>
<div class="b" style="left:1975px;top:610.1px;width:13px;height:27.9px;background:#1af87f"></div>
<div class="b" style="left:1988px;top:614.2px;width:12px;height:23.8px;background:#19f871"></div>
<div class="b" style="left:2000px;top:634.4px;width:12px;height:3.6px;background:#c1f8d5"></div>
<div class="t c ix" style="left:0px;top:640px;width:118px;">10</div>
<svg class="fl" style="left:143px;top:658px" width="28" height="20" viewBox="0 0 36 26" preserveAspectRatio="none"><rect width="36" height="26" fill="#EEE"/><rect width="36" height="13" fill="#ED2939"/><circle cx="8" cy="6.600" r="5.100" fill="#fff"/><circle cx="10.200" cy="6.600" r="4.600" fill="#ED2939"/><polygon fill="#fff" points="12.70,2.75 12.96,3.54 13.79,3.54 13.12,4.04 13.38,4.83 12.70,4.34 12.02,4.83 12.28,4.04 11.61,3.54 12.44,3.54"/><polygon fill="#fff" points="15.55,4.82 15.81,5.62 16.65,5.62 15.97,6.11 16.23,6.90 15.55,6.41 14.88,6.90 15.14,6.11 14.46,5.62 15.29,5.62"/><polygon fill="#fff" points="14.46,8.18 14.72,8.97 15.56,8.97 14.88,9.46 15.14,10.26 14.46,9.77 13.79,10.26 14.05,9.46 13.37,8.97 14.21,8.97"/><polygon fill="#fff" points="10.94,8.18 11.19,8.97 12.03,8.97 11.35,9.46 11.61,10.26 10.94,9.77 10.26,10.26 10.52,9.46 9.84,8.97 10.68,8.97"/><polygon fill="#fff" points="9.85,4.82 10.11,5.62 10.94,5.62 10.26,6.11 10.52,6.90 9.85,6.41 9.17,6.90 9.43,6.11 8.75,5.62 9.59,5.62"/></svg>
<div class="t " style="left:177px;top:641px;width:620px;">［新加坡<span class="hy">-</span>三网优化<span class="cb">］</span><span class="dg">2</span>.<span class="dg">5</span><span class="lc">x</span></div>
<div class="t c ty" style="left:798px;top:640px;width:269px;">Shadowsocks</div>
<div class="cc dl" style="left:1067px;top:640px;width:177px;background:#21e666">193ms</div>
<div class="cc dl" style="left:1244px;top:640px;width:222px;background:#56be4e">497ms</div>
<div class="cc ds" style="left:1466px;top:640px;width:200px;background:#3bf882">16.97MB</div>
<div class="cc ds" style="left:1666px;top:640px;width:200px;background:#1af991">29.98MB</div>
<div class="b" style="left:1867px;top:684.0px;width:12px;height:12.0px;background:#76f8a7"></div>
<div class="b" style="left:1879px;top:665.2px;width:12px;height:30.8px;background:#1af888"></div>
<div class="b" style="left:1891px;top:665.2px;width:12px;height:30.8px;background:#1af888"></div>
<div class="b" style="left:1903px;top:663.0px;width:12px;height:33.0px;background:#1af991"></div>
<div class="b" style="left:1915px;top:664.2px;width:12px;height:31.8px;background:#1af88c"></div>
<div class="b" style="left:1927px;top:664.2px;width:12px;height:31.8px;background:#1af88c"></div>
<div class="b" style="left:1939px;top:664.2px;width:12px;height:31.8px;background:#1af88c"></div>
<div class="b" style="left:1951px;top:663.0px;width:12px;height:33.0px;background:#1af991"></div>
<div class="b" style="left:1963px;top:676.0px;width:12px;height:20.0px;background:#2ff87a"></div>
<div class="b" style="left:2000px;top:695.5px;width:12px;height:0.5px;background:#ddf8e6"></div>
<div class="b" style="left:2012px;top:689.2px;width:12px;height:6.8px;background:#a4f8c3"></div>
<div class="b" style="left:2024px;top:687.0px;width:12px;height:9.0px;background:#91f8b7"></div>
<div class="b" style="left:2036px;top:685.5px;width:14px;height:10.5px;background:#83f8af"></div>
<div class="t c ix" style="left:0px;top:698px;width:118px;">11</div>
<svg class="fl" style="left:143px;top:716px" width="28" height="20" viewBox="0 0 36 26" preserveAspectRatio="none"><rect width="36" height="26" fill="#DE2910"/><g transform="rotate(0 18 13)"><path fill="#fff" d="M18 13.500C15.600 12 14.300 8.800 15.700 5.800C16.600 3.900 18.600 2.700 20.900 2.700C20 4.400 21.200 6.300 21.200 8.400C21.200 10.600 20 12.600 18 13.500Z"/><path fill="none" stroke="#DE2910" stroke-width=".5" d="M18.400 11.600c-1-1.700-.9-3.500.3-5"/></g><g transform="rotate(72 18 13)"><path fill="#fff" d="M18 13.500C15.600 12 14.300 8.800 15.700 5.800C16.600 3.900 18.600 2.700 20.900 2.700C20 4.400 21.200 6.300 21.200 8.400C21.200 10.600 20 12.600 18 13.500Z"/><path fill="none" stroke="#DE2910" stroke-width=".5" d="M18.400 11.600c-1-1.700-.9-3.500.3-5"/></g><g transform="rotate(144 18 13)"><path fill="#fff" d="M18 13.500C15.600 12 14.300 8.800 15.700 5.800C16.600 3.900 18.600 2.700 20.900 2.700C20 4.400 21.200 6.300 21.200 8.400C21.200 10.600 20 12.600 18 13.500Z"/><path fill="none" stroke="#DE2910" stroke-width=".5" d="M18.400 11.600c-1-1.700-.9-3.500.3-5"/></g><g transform="rotate(216 18 13)"><path fill="#fff" d="M18 13.500C15.600 12 14.300 8.800 15.700 5.800C16.600 3.900 18.600 2.700 20.900 2.700C20 4.400 21.200 6.300 21.200 8.400C21.200 10.600 20 12.600 18 13.500Z"/><path fill="none" stroke="#DE2910" stroke-width=".5" d="M18.400 11.600c-1-1.700-.9-3.500.3-5"/></g><g transform="rotate(288 18 13)"><path fill="#fff" d="M18 13.500C15.600 12 14.300 8.800 15.700 5.800C16.600 3.900 18.600 2.700 20.900 2.700C20 4.400 21.200 6.300 21.200 8.400C21.200 10.600 20 12.600 18 13.500Z"/><path fill="none" stroke="#DE2910" stroke-width=".5" d="M18.400 11.600c-1-1.700-.9-3.500.3-5"/></g></svg>
<div class="t " style="left:177px;top:699px;width:620px;">［香港家宽<span class="hy">-</span>三网优化<span class="cb">］</span><span class="dg">2</span>.<span class="dg">5</span><span class="lc">x</span></div>
<div class="t c ty" style="left:798px;top:698px;width:269px;">Shadowsocks</div>
<div class="cc dl" style="left:1067px;top:698px;width:177px;background:#ff3e00">-</div>
<div class="cc dl" style="left:1244px;top:698px;width:222px;background:#ff3e00">-</div>
<div class="cc ds" style="left:1466px;top:698px;width:200px;background:#19f878">23.63MB</div>
<div class="cc ds" style="left:1666px;top:698px;width:200px;background:#19faa5">34.42MB</div>
<div class="b" style="left:1891px;top:741.4px;width:12px;height:12.6px;background:#71f8a3"></div>
<div class="b" style="left:1903px;top:717.3px;width:12px;height:36.7px;background:#19faa0"></div>
<div class="b" style="left:1915px;top:716.2px;width:12px;height:37.8px;background:#19faa4"></div>
<div class="b" style="left:1927px;top:716.2px;width:12px;height:37.8px;background:#19faa4"></div>
<div class="b" style="left:1939px;top:716.2px;width:12px;height:37.8px;background:#19faa4"></div>
<div class="b" style="left:1951px;top:716.2px;width:12px;height:37.8px;background:#19faa4"></div>
<div class="b" style="left:1963px;top:716.2px;width:12px;height:37.8px;background:#19faa4"></div>
<div class="b" style="left:1975px;top:738.3px;width:13px;height:15.7px;background:#55f892"></div>
<div class="b" style="left:1988px;top:746.3px;width:12px;height:7.7px;background:#9cf8be"></div>
<div class="b" style="left:2000px;top:723.5px;width:12px;height:30.5px;background:#1af887"></div>
<div class="b" style="left:2012px;top:723.5px;width:12px;height:30.5px;background:#1af887"></div>
<div class="b" style="left:2024px;top:722.5px;width:12px;height:31.5px;background:#1af88b"></div>
<div class="b" style="left:2036px;top:722.5px;width:14px;height:31.5px;background:#1af88b"></div>
<div class="t c ix" style="left:0px;top:756px;width:118px;">12</div>
<svg class="fl" style="left:143px;top:774px" width="28" height="20" viewBox="0 0 36 26" preserveAspectRatio="none"><rect width="36" height="26" fill="#DE2910"/><polygon fill="#FFDE02" points="7.00,5.60 7.92,8.43 10.90,8.43 8.49,10.18 9.41,13.02 7.00,11.27 4.59,13.02 5.51,10.18 3.10,8.43 6.08,8.43"/><polygon fill="#FFDE02" points="12.53,3.82 12.34,4.71 13.12,5.16 12.22,5.25 12.03,6.14 11.66,5.31 10.76,5.41 11.43,4.80 11.06,3.97 11.85,4.43"/><polygon fill="#FFDE02" points="16.08,7.08 15.47,7.75 15.93,8.54 15.10,8.17 14.49,8.84 14.59,7.94 13.76,7.57 14.65,7.38 14.74,6.48 15.19,7.26"/><polygon fill="#FFDE02" points="14.90,10.25 15.18,11.11 16.09,11.11 15.35,11.65 15.63,12.51 14.90,11.98 14.17,12.51 14.45,11.65 13.71,11.11 14.62,11.11"/><polygon fill="#FFDE02" points="12.62,13.32 12.44,14.21 13.22,14.66 12.32,14.75 12.13,15.64 11.76,14.81 10.86,14.91 11.53,14.30 11.16,13.47 11.95,13.93"/></svg>
<div class="t " style="left:177px;top:757px;width:620px;">［台湾家宽<span class="hy">-</span>三网优化<span class="cb">］</span><span class="dg">2</span>.<span class="dg">5</span><span class="lc">x</span></div>
<div class="t c ty" style="left:798px;top:756px;width:269px;">Shadowsocks</div>
<div class="cc dl" style="left:1067px;top:756px;width:177px;background:#1bea68">159ms</div>
<div class="cc dl" style="left:1244px;top:756px;width:222px;background:#47c954">412ms</div>
<div class="cc ds" style="left:1466px;top:756px;width:200px;background:#3ff885">16.49MB</div>
<div class="cc ds" style="left:1666px;top:756px;width:200px;background:#1af884">26.86MB</div>
<div class="b" style="left:1867px;top:810.5px;width:12px;height:1.5px;background:#d4f8e1"></div>
<div class="b" style="left:1879px;top:786.4px;width:12px;height:25.6px;background:#19f877"></div>
<div class="b" style="left:1891px;top:788.5px;width:12px;height:23.5px;background:#19f870"></div>
<div class="b" style="left:1903px;top:786.4px;width:12px;height:25.6px;background:#19f877"></div>
<div class="b" style="left:1915px;top:785.3px;width:12px;height:26.7px;background:#1af87b"></div>
<div class="b" style="left:1927px;top:788.5px;width:12px;height:23.5px;background:#19f870"></div>
<div class="b" style="left:1939px;top:799.0px;width:12px;height:13.0px;background:#6df8a1"></div>
<div class="b" style="left:1951px;top:783.8px;width:12px;height:28.2px;background:#1af880"></div>
<div class="b" style="left:1963px;top:782.4px;width:12px;height:29.6px;background:#1af884"></div>
<div class="b" style="left:1975px;top:787.5px;width:13px;height:24.5px;background:#19f874"></div>
<div class="b" style="left:1988px;top:788.5px;width:12px;height:23.5px;background:#19f870"></div>
<div class="b" style="left:2000px;top:810.5px;width:12px;height:1.5px;background:#d4f8e1"></div>
<div class="b" style="left:2012px;top:810.0px;width:12px;height:2.0px;background:#cff8de"></div>
<div class="b" style="left:2024px;top:806.3px;width:12px;height:5.7px;background:#aef8ca"></div>
<div class="b" style="left:2036px;top:804.2px;width:14px;height:7.8px;background:#9bf8be"></div>
<div class="t c ix" style="left:0px;top:814px;width:118px;">13</div>
<svg class="fl" style="left:143px;top:832px" width="28" height="20" viewBox="0 0 36 26" preserveAspectRatio="none"><rect width="36" height="26" fill="#EEE"/><circle cx="18" cy="13" r="7" fill="#ED1B2F"/></svg>
<div class="t " style="left:177px;top:815px;width:620px;">［日本住宅<span class="hy">-</span>三网优化<span class="cb">］</span><span class="dg">2</span>.<span class="dg">5</span><span class="lc">x</span></div>
<div class="t c ty" style="left:798px;top:814px;width:269px;">Shadowsocks</div>
<div class="cc dl" style="left:1067px;top:814px;width:177px;background:#0ff46e">87ms</div>
<div class="cc dl" style="left:1244px;top:814px;width:222px;background:#ff3e00">1528ms</div>
<div class="cc ds" style="left:1466px;top:814px;width:200px;background:#1af888">28.01MB</div>
<div class="cc ds" style="left:1666px;top:814px;width:200px;background:#1ae9d1">45.66MB</div>
<div class="b" style="left:1867px;top:865.0px;width:12px;height:5.0px;background:#b4f8cd"></div>
<div class="b" style="left:1879px;top:862.5px;width:12px;height:7.5px;background:#9ef8c0"></div>
<div class="b" style="left:1891px;top:858.5px;width:12px;height:11.5px;background:#7bf8a9"></div>
<div class="b" style="left:1903px;top:845.5px;width:12px;height:24.5px;background:#19f874"></div>
<div class="b" style="left:1915px;top:836.3px;width:12px;height:33.7px;background:#1af994"></div>
<div class="b" style="left:1927px;top:828.3px;width:12px;height:41.7px;background:#18fcb4"></div>
<div class="b" style="left:1939px;top:823.2px;width:12px;height:46.8px;background:#19f2c6"></div>
<div class="b" style="left:1951px;top:819.3px;width:12px;height:50.7px;background:#1ae8d2"></div>
<div class="b" style="left:1963px;top:840.4px;width:12px;height:29.6px;background:#1af884"></div>
<div class="b" style="left:1975px;top:847.5px;width:13px;height:22.5px;background:#19f86d"></div>
<div class="b" style="left:1988px;top:828.3px;width:12px;height:41.7px;background:#18fcb4"></div>
<div class="b" style="left:2000px;top:829.3px;width:12px;height:40.7px;background:#18fbb0"></div>
<div class="b" style="left:2012px;top:847.5px;width:12px;height:22.5px;background:#19f86d"></div>
<div class="b" style="left:2024px;top:826.4px;width:12px;height:43.6px;background:#18fabb"></div>
<div class="b" style="left:2036px;top:835.3px;width:14px;height:34.7px;background:#19f998"></div>
<div class="t c ix" style="left:0px;top:872px;width:118px;">14</div>
<svg class="fl" style="left:143px;top:890px" width="28" height="20" viewBox="0 0 36 26" preserveAspectRatio="none"><rect width="36" height="26" fill="#EEE"/><rect y="0" width="36" height="2" fill="#B22334"/><rect y="4" width="36" height="2" fill="#B22334"/><rect y="8" width="36" height="2" fill="#B22334"/><rect y="12" width="36" height="2" fill="#B22334"/><rect y="16" width="36" height="2" fill="#B22334"/><rect y="20" width="36" height="2" fill="#B22334"/><rect y="24" width="36" height="2" fill="#B22334"/><rect width="17.600" height="14" fill="#3C3B6E"/><circle cx="2.20" cy="1.90" r=".7" fill="#fff"/><circle cx="5.50" cy="1.90" r=".7" fill="#fff"/><circle cx="8.80" cy="1.90" r=".7" fill="#fff"/><circle cx="12.10" cy="1.90" r=".7" fill="#fff"/><circle cx="15.40" cy="1.90" r=".7" fill="#fff"/><circle cx="3.85" cy="4.45" r=".7" fill="#fff"/><circle cx="7.15" cy="4.45" r=".7" fill="#fff"/><circle cx="10.45" cy="4.45" r=".7" fill="#fff"/><circle cx="13.75" cy="4.45" r=".7" fill="#fff"/><circle cx="2.20" cy="7.00" r=".7" fill="#fff"/><circle cx="5.50" cy="7.00" r=".7" fill="#fff"/><circle cx="8.80" cy="7.00" r=".7" fill="#fff"/><circle cx="12.10" cy="7.00" r=".7" fill="#fff"/><circle cx="15.40" cy="7.00" r=".7" fill="#fff"/><circle cx="3.85" cy="9.55" r=".7" fill="#fff"/><circle cx="7.15" cy="9.55" r=".7" fill="#fff"/><circle cx="10.45" cy="9.55" r=".7" fill="#fff"/><circle cx="13.75" cy="9.55" r=".7" fill="#fff"/><circle cx="2.20" cy="12.10" r=".7" fill="#fff"/><circle cx="5.50" cy="12.10" r=".7" fill="#fff"/><circle cx="8.80" cy="12.10" r=".7" fill="#fff"/><circle cx="12.10" cy="12.10" r=".7" fill="#fff"/><circle cx="15.40" cy="12.10" r=".7" fill="#fff"/></svg>
<div class="t " style="left:177px;top:873px;width:620px;">［美国家宽<span class="hy">-</span>三网优化<span class="cb">］</span><span class="dg">2</span>.<span class="dg">5</span><span class="lc">x</span></div>
<div class="t c ty" style="left:798px;top:872px;width:269px;">Shadowsocks</div>
<div class="cc dl" style="left:1067px;top:872px;width:177px;background:#31da5f">283ms</div>
<div class="cc dl" style="left:1244px;top:872px;width:222px;background:#8a9636">802ms</div>
<div class="cc ds" style="left:1466px;top:872px;width:200px;background:#e1f8e9">36.02KB</div>
<div class="cc ds" style="left:1666px;top:872px;width:200px;background:#e0f8e9">58.86KB</div>
<div class="t c ix" style="left:0px;top:930px;width:118px;">15</div>
<svg class="fl" style="left:143px;top:948px" width="28" height="20" viewBox="0 0 36 26" preserveAspectRatio="none"><rect width="36" height="26" fill="#00247D"/><path stroke="#EEE" stroke-width="5.2" d="M0 0L36 26M36 0L0 26"/><path stroke="#CF1B2B" stroke-width="1.7" d="M0 0L36 26M36 0L0 26"/><path fill="#EEE" d="M13.5 0h9v26h-9zM0 8.5h36v9H0z"/><path fill="#CF1B2B" d="M15.3 0h5.4v26h-5.4zM0 10.4h36v5.2H0z"/></svg>
<div class="t " style="left:177px;top:931px;width:620px;">［英国原生<span class="hy">-</span>三网优化<span class="cb">］</span><span class="dg">2</span>.<span class="dg">5</span><span class="lc">x</span></div>
<div class="t c ty" style="left:798px;top:930px;width:269px;">Shadowsocks</div>
<div class="cc dl" style="left:1067px;top:930px;width:177px;background:#40ce58">372ms</div>
<div class="cc dl" style="left:1244px;top:930px;width:222px;background:#b47622">1047ms</div>
<div class="cc ds" style="left:1466px;top:930px;width:200px;background:#7bf8aa">10.39MB</div>
<div class="cc ds" style="left:1666px;top:930px;width:200px;background:#66f89d">12.53MB</div>
<div class="b" style="left:1879px;top:981.0px;width:12px;height:5.0px;background:#b4f8cd"></div>
<div class="b" style="left:1891px;top:974.4px;width:12px;height:11.6px;background:#7af8a9"></div>
<div class="b" style="left:1903px;top:973.0px;width:12px;height:13.0px;background:#6df8a1"></div>
<div class="b" style="left:1915px;top:973.0px;width:12px;height:13.0px;background:#6df8a1"></div>
<div class="b" style="left:1927px;top:973.0px;width:12px;height:13.0px;background:#6df8a1"></div>
<div class="b" style="left:1939px;top:973.0px;width:12px;height:13.0px;background:#6df8a1"></div>
<div class="b" style="left:1951px;top:973.0px;width:12px;height:13.0px;background:#6df8a1"></div>
<div class="b" style="left:1963px;top:973.0px;width:12px;height:13.0px;background:#6df8a1"></div>
<div class="b" style="left:1975px;top:973.0px;width:13px;height:13.0px;background:#6df8a1"></div>
<div class="b" style="left:1988px;top:973.0px;width:12px;height:13.0px;background:#6df8a1"></div>
<div class="b" style="left:2000px;top:972.2px;width:12px;height:13.8px;background:#66f89d"></div>
<div class="b" style="left:2012px;top:974.0px;width:12px;height:12.0px;background:#76f8a7"></div>
<div class="b" style="left:2024px;top:973.0px;width:12px;height:13.0px;background:#6df8a1"></div>
<div class="b" style="left:2036px;top:981.0px;width:14px;height:5.0px;background:#b4f8cd"></div>
<div class="t c ix" style="left:0px;top:988px;width:118px;">16</div>
<svg class="fl" style="left:143px;top:1006px" width="28" height="20" viewBox="0 0 36 26" preserveAspectRatio="none"><rect width="36" height="26" fill="#DE2910"/><g transform="rotate(0 18 13)"><path fill="#fff" d="M18 13.500C15.600 12 14.300 8.800 15.700 5.800C16.600 3.900 18.600 2.700 20.900 2.700C20 4.400 21.200 6.300 21.200 8.400C21.200 10.600 20 12.600 18 13.500Z"/><path fill="none" stroke="#DE2910" stroke-width=".5" d="M18.400 11.600c-1-1.700-.9-3.500.3-5"/></g><g transform="rotate(72 18 13)"><path fill="#fff" d="M18 13.500C15.600 12 14.300 8.800 15.700 5.800C16.600 3.900 18.600 2.700 20.900 2.700C20 4.400 21.200 6.300 21.200 8.400C21.200 10.600 20 12.600 18 13.500Z"/><path fill="none" stroke="#DE2910" stroke-width=".5" d="M18.400 11.600c-1-1.700-.9-3.500.3-5"/></g><g transform="rotate(144 18 13)"><path fill="#fff" d="M18 13.500C15.600 12 14.300 8.800 15.700 5.800C16.600 3.900 18.600 2.700 20.900 2.700C20 4.400 21.200 6.300 21.200 8.400C21.200 10.600 20 12.600 18 13.500Z"/><path fill="none" stroke="#DE2910" stroke-width=".5" d="M18.400 11.600c-1-1.700-.9-3.500.3-5"/></g><g transform="rotate(216 18 13)"><path fill="#fff" d="M18 13.500C15.600 12 14.300 8.800 15.700 5.800C16.600 3.900 18.600 2.700 20.900 2.700C20 4.400 21.200 6.300 21.200 8.400C21.200 10.600 20 12.600 18 13.500Z"/><path fill="none" stroke="#DE2910" stroke-width=".5" d="M18.400 11.600c-1-1.700-.9-3.500.3-5"/></g><g transform="rotate(288 18 13)"><path fill="#fff" d="M18 13.500C15.600 12 14.300 8.800 15.700 5.800C16.600 3.900 18.600 2.700 20.900 2.700C20 4.400 21.200 6.300 21.200 8.400C21.200 10.600 20 12.600 18 13.500Z"/><path fill="none" stroke="#DE2910" stroke-width=".5" d="M18.400 11.600c-1-1.700-.9-3.500.3-5"/></g></svg>
<div class="t " style="left:177px;top:989px;width:620px;"><span class="wb">〖</span>香港电信<span class="cb wb">〗</span> <span class="dg">1</span>.<span class="dg">5</span><span class="lc">x</span></div>
<div class="t c ty" style="left:798px;top:988px;width:269px;">Shadowsocks</div>
<div class="cc dl" style="left:1067px;top:988px;width:177px;background:#1fe867">178ms</div>
<div class="cc dl" style="left:1244px;top:988px;width:222px;background:#69b045">608ms</div>
<div class="cc ds" style="left:1466px;top:988px;width:200px;background:#97f8bb">7.57MB</div>
<div class="cc ds" style="left:1666px;top:988px;width:200px;background:#3ef884">16.58MB</div>
<div class="b" style="left:1867px;top:1039.4px;width:12px;height:4.6px;background:#b8f8d0"></div>
<div class="b" style="left:1879px;top:1026.0px;width:12px;height:18.0px;background:#41f886"></div>
<div class="b" style="left:1891px;top:1035.0px;width:12px;height:9.0px;background:#91f8b7"></div>
<div class="b" style="left:1903px;top:1029.2px;width:12px;height:14.8px;background:#5df897"></div>
<div class="b" style="left:1915px;top:1035.0px;width:12px;height:9.0px;background:#91f8b7"></div>
<div class="b" style="left:1927px;top:1041.0px;width:12px;height:3.0px;background:#c6f8d8"></div>
<div class="b" style="left:1939px;top:1042.0px;width:12px;height:2.0px;background:#cff8de"></div>
<div class="b" style="left:1951px;top:1039.4px;width:12px;height:4.6px;background:#b8f8d0"></div>
<div class="b" style="left:1963px;top:1037.6px;width:12px;height:6.4px;background:#a8f8c6"></div>
<div class="b" style="left:1975px;top:1036.5px;width:13px;height:7.5px;background:#9ef8c0"></div>
<div class="b" style="left:1988px;top:1041.5px;width:12px;height:2.5px;background:#cbf8db"></div>
<div class="b" style="left:2000px;top:1039.8px;width:12px;height:4.2px;background:#bcf8d2"></div>
<div class="b" style="left:2012px;top:1031.0px;width:12px;height:13.0px;background:#6df8a1"></div>
<div class="b" style="left:2024px;top:1043.5px;width:12px;height:0.5px;background:#ddf8e6"></div>
<div class="b" style="left:2036px;top:1031.0px;width:14px;height:13.0px;background:#6df8a1"></div>
<div class="t c ix" style="left:0px;top:1046px;width:118px;">17</div>
<svg class="fl" style="left:143px;top:1064px" width="28" height="20" viewBox="0 0 36 26" preserveAspectRatio="none"><rect width="36" height="26" fill="#DE2910"/><polygon fill="#FFDE02" points="7.00,5.60 7.92,8.43 10.90,8.43 8.49,10.18 9.41,13.02 7.00,11.27 4.59,13.02 5.51,10.18 3.10,8.43 6.08,8.43"/><polygon fill="#FFDE02" points="12.53,3.82 12.34,4.71 13.12,5.16 12.22,5.25 12.03,6.14 11.66,5.31 10.76,5.41 11.43,4.80 11.06,3.97 11.85,4.43"/><polygon fill="#FFDE02" points="16.08,7.08 15.47,7.75 15.93,8.54 15.10,8.17 14.49,8.84 14.59,7.94 13.76,7.57 14.65,7.38 14.74,6.48 15.19,7.26"/><polygon fill="#FFDE02" points="14.90,10.25 15.18,11.11 16.09,11.11 15.35,11.65 15.63,12.51 14.90,11.98 14.17,12.51 14.45,11.65 13.71,11.11 14.62,11.11"/><polygon fill="#FFDE02" points="12.62,13.32 12.44,14.21 13.22,14.66 12.32,14.75 12.13,15.64 11.76,14.81 10.86,14.91 11.53,14.30 11.16,13.47 11.95,13.93"/></svg>
<div class="t " style="left:177px;top:1047px;width:620px;"><span class="wb">〖</span>台湾电信<span class="cb wb">〗</span><span class="dg">1</span>.<span class="dg">5</span><span class="lc">x</span></div>
<div class="t c ty" style="left:798px;top:1046px;width:269px;">Shadowsocks</div>
<div class="cc dl" style="left:1067px;top:1046px;width:177px;background:#ac7c26">1001ms</div>
<div class="cc dl" style="left:1244px;top:1046px;width:222px;background:#d16115">1215ms</div>
<div class="cc ds" style="left:1466px;top:1046px;width:200px;background:#dff8e8">222.92KB</div>
<div class="cc ds" style="left:1666px;top:1046px;width:200px;background:#def8e7">318.12KB</div>
<div class="t c ix" style="left:0px;top:1104px;width:118px;">18</div>
<svg class="fl" style="left:143px;top:1122px" width="28" height="20" viewBox="0 0 36 26" preserveAspectRatio="none"><rect width="36" height="26" fill="#EEE"/><rect width="36" height="13" fill="#ED2939"/><circle cx="8" cy="6.600" r="5.100" fill="#fff"/><circle cx="10.200" cy="6.600" r="4.600" fill="#ED2939"/><polygon fill="#fff" points="12.70,2.75 12.96,3.54 13.79,3.54 13.12,4.04 13.38,4.83 12.70,4.34 12.02,4.83 12.28,4.04 11.61,3.54 12.44,3.54"/><polygon fill="#fff" points="15.55,4.82 15.81,5.62 16.65,5.62 15.97,6.11 16.23,6.90 15.55,6.41 14.88,6.90 15.14,6.11 14.46,5.62 15.29,5.62"/><polygon fill="#fff" points="14.46,8.18 14.72,8.97 15.56,8.97 14.88,9.46 15.14,10.26 14.46,9.77 13.79,10.26 14.05,9.46 13.37,8.97 14.21,8.97"/><polygon fill="#fff" points="10.94,8.18 11.19,8.97 12.03,8.97 11.35,9.46 11.61,10.26 10.94,9.77 10.26,10.26 10.52,9.46 9.84,8.97 10.68,8.97"/><polygon fill="#fff" points="9.85,4.82 10.11,5.62 10.94,5.62 10.26,6.11 10.52,6.90 9.85,6.41 9.17,6.90 9.43,6.11 8.75,5.62 9.59,5.62"/></svg>
<div class="t " style="left:177px;top:1105px;width:620px;"><span class="wb">〖</span>新加坡电信<span class="cb wb">〗</span><span class="dg">1</span>.<span class="dg">5</span><span class="lc">x</span></div>
<div class="t c ty" style="left:798px;top:1104px;width:269px;">Shadowsocks</div>
<div class="cc dl" style="left:1067px;top:1104px;width:177px;background:#16ee6b">130ms</div>
<div class="cc dl" style="left:1244px;top:1104px;width:222px;background:#37d65c">318ms</div>
<div class="cc ds" style="left:1466px;top:1104px;width:200px;background:#b5f8cd">4.53MB</div>
<div class="cc ds" style="left:1666px;top:1104px;width:200px;background:#9ef8bf">6.85MB</div>
<div class="b" style="left:1891px;top:1155.0px;width:12px;height:5.0px;background:#b4f8cd"></div>
<div class="b" style="left:1903px;top:1154.3px;width:12px;height:5.7px;background:#aef8ca"></div>
<div class="b" style="left:1915px;top:1153.3px;width:12px;height:6.7px;background:#a5f8c4"></div>
<div class="b" style="left:1927px;top:1153.3px;width:12px;height:6.7px;background:#a5f8c4"></div>
<div class="b" style="left:1939px;top:1153.3px;width:12px;height:6.7px;background:#a5f8c4"></div>
<div class="b" style="left:1951px;top:1154.3px;width:12px;height:5.7px;background:#aef8ca"></div>
<div class="b" style="left:1963px;top:1154.3px;width:12px;height:5.7px;background:#aef8ca"></div>
<div class="b" style="left:1975px;top:1155.0px;width:13px;height:5.0px;background:#b4f8cd"></div>
<div class="b" style="left:1988px;top:1155.0px;width:12px;height:5.0px;background:#b4f8cd"></div>
<div class="b" style="left:2000px;top:1154.8px;width:12px;height:5.2px;background:#b3f8cc"></div>
<div class="b" style="left:2012px;top:1154.5px;width:12px;height:5.5px;background:#b0f8cb"></div>
<div class="b" style="left:2024px;top:1154.3px;width:12px;height:5.7px;background:#aef8ca"></div>
<div class="b" style="left:2036px;top:1159.5px;width:14px;height:0.5px;background:#ddf8e6"></div>
<div class="t c ix" style="left:0px;top:1162px;width:118px;">19</div>
<svg class="fl" style="left:143px;top:1180px" width="28" height="20" viewBox="0 0 36 26" preserveAspectRatio="none"><rect width="36" height="26" fill="#EEE"/><circle cx="18" cy="13" r="7" fill="#ED1B2F"/></svg>
<div class="t " style="left:177px;top:1163px;width:620px;"><span class="wb">〖</span>日本电信<span class="cb wb">〗</span><span class="dg">1</span>.<span class="dg">5</span><span class="lc">x</span></div>
<div class="t c ty" style="left:798px;top:1162px;width:269px;">Shadowsocks</div>
<div class="cc dl" style="left:1067px;top:1162px;width:177px;background:#15ef6b">124ms</div>
<div class="cc dl" style="left:1244px;top:1162px;width:222px;background:#3fcf58">366ms</div>
<div class="cc ds" style="left:1466px;top:1162px;width:200px;background:#65f89c">12.62MB</div>
<div class="cc ds" style="left:1666px;top:1162px;width:200px;background:#19f86e">20.77MB</div>
<div class="b" style="left:1867px;top:1214.4px;width:12px;height:3.6px;background:#c1f8d5"></div>
<div class="b" style="left:1879px;top:1204.4px;width:12px;height:13.6px;background:#68f89e"></div>
<div class="b" style="left:1891px;top:1209.6px;width:12px;height:8.4px;background:#96f8bb"></div>
<div class="b" style="left:1903px;top:1204.4px;width:12px;height:13.6px;background:#68f89e"></div>
<div class="b" style="left:1915px;top:1209.6px;width:12px;height:8.4px;background:#96f8bb"></div>
<div class="b" style="left:1927px;top:1204.4px;width:12px;height:13.6px;background:#68f89e"></div>
<div class="b" style="left:1939px;top:1201.5px;width:12px;height:16.5px;background:#4ef88e"></div>
<div class="b" style="left:1951px;top:1202.5px;width:12px;height:15.5px;background:#57f893"></div>
<div class="b" style="left:1963px;top:1204.7px;width:12px;height:13.3px;background:#6af8a0"></div>
<div class="b" style="left:1975px;top:1206.8px;width:13px;height:11.2px;background:#7df8ab"></div>
<div class="b" style="left:1988px;top:1204.4px;width:12px;height:13.6px;background:#68f89e"></div>
<div class="b" style="left:2000px;top:1204.4px;width:12px;height:13.6px;background:#68f89e"></div>
<div class="b" style="left:2012px;top:1206.8px;width:12px;height:11.2px;background:#7df8ab"></div>
<div class="b" style="left:2024px;top:1195.6px;width:12px;height:22.4px;background:#19f86d"></div>
<div class="b" style="left:2036px;top:1200.3px;width:14px;height:17.7px;background:#43f887"></div>
<div class="t c ix" style="left:0px;top:1220px;width:118px;">20</div>
<svg class="fl" style="left:143px;top:1238px" width="28" height="20" viewBox="0 0 36 26" preserveAspectRatio="none"><rect width="36" height="26" fill="#00247D"/><path stroke="#EEE" stroke-width="5.2" d="M0 0L36 26M36 0L0 26"/><path stroke="#CF1B2B" stroke-width="1.7" d="M0 0L36 26M36 0L0 26"/><path fill="#EEE" d="M13.5 0h9v26h-9zM0 8.5h36v9H0z"/><path fill="#CF1B2B" d="M15.3 0h5.4v26h-5.4zM0 10.4h36v5.2H0z"/></svg>
<div class="t " style="left:177px;top:1221px;width:620px;"><span class="wb">〖</span>英国电信<span class="cb wb">〗</span><span class="dg">2</span><span class="lc">x</span></div>
<div class="t c ty" style="left:798px;top:1220px;width:269px;">Shadowsocks</div>
<div class="cc dl" style="left:1067px;top:1220px;width:177px;background:#3fcf58">366ms</div>
<div class="cc dl" style="left:1244px;top:1220px;width:222px;background:#ff3e00">2076ms</div>
<div class="cc ds" style="left:1466px;top:1220px;width:200px;background:#80f8ad">9.92MB</div>
<div class="cc ds" style="left:1666px;top:1220px;width:200px;background:#62f89b">12.91MB</div>
<div class="b" style="left:1879px;top:1270.1px;width:12px;height:5.9px;background:#acf8c8"></div>
<div class="b" style="left:1891px;top:1264.2px;width:12px;height:11.8px;background:#78f8a8"></div>
<div class="b" style="left:1903px;top:1263.3px;width:12px;height:12.7px;background:#70f8a3"></div>
<div class="b" style="left:1915px;top:1265.4px;width:12px;height:10.6px;background:#83f8ae"></div>
<div class="b" style="left:1927px;top:1262.3px;width:12px;height:13.7px;background:#67f89d"></div>
<div class="b" style="left:1939px;top:1263.3px;width:12px;height:12.7px;background:#70f8a3"></div>
<div class="b" style="left:1951px;top:1263.3px;width:12px;height:12.7px;background:#70f8a3"></div>
<div class="b" style="left:1963px;top:1264.8px;width:12px;height:11.2px;background:#7df8ab"></div>
<div class="b" style="left:1975px;top:1263.3px;width:13px;height:12.7px;background:#70f8a3"></div>
<div class="b" style="left:1988px;top:1266.0px;width:12px;height:10.0px;background:#88f8b2"></div>
<div class="b" style="left:2000px;top:1264.2px;width:12px;height:11.8px;background:#78f8a8"></div>
<div class="b" style="left:2012px;top:1265.4px;width:12px;height:10.6px;background:#83f8ae"></div>
<div class="b" style="left:2024px;top:1262.3px;width:12px;height:13.7px;background:#67f89d"></div>
<div class="b" style="left:2036px;top:1271.6px;width:14px;height:4.4px;background:#baf8d1"></div>
<div class="t c ix" style="left:0px;top:1278px;width:118px;">21</div>
<svg class="fl" style="left:143px;top:1296px" width="28" height="20" viewBox="0 0 36 26" preserveAspectRatio="none"><rect width="36" height="26" fill="#EEE"/><rect y="0" width="36" height="2" fill="#B22334"/><rect y="4" width="36" height="2" fill="#B22334"/><rect y="8" width="36" height="2" fill="#B22334"/><rect y="12" width="36" height="2" fill="#B22334"/><rect y="16" width="36" height="2" fill="#B22334"/><rect y="20" width="36" height="2" fill="#B22334"/><rect y="24" width="36" height="2" fill="#B22334"/><rect width="17.600" height="14" fill="#3C3B6E"/><circle cx="2.20" cy="1.90" r=".7" fill="#fff"/><circle cx="5.50" cy="1.90" r=".7" fill="#fff"/><circle cx="8.80" cy="1.90" r=".7" fill="#fff"/><circle cx="12.10" cy="1.90" r=".7" fill="#fff"/><circle cx="15.40" cy="1.90" r=".7" fill="#fff"/><circle cx="3.85" cy="4.45" r=".7" fill="#fff"/><circle cx="7.15" cy="4.45" r=".7" fill="#fff"/><circle cx="10.45" cy="4.45" r=".7" fill="#fff"/><circle cx="13.75" cy="4.45" r=".7" fill="#fff"/><circle cx="2.20" cy="7.00" r=".7" fill="#fff"/><circle cx="5.50" cy="7.00" r=".7" fill="#fff"/><circle cx="8.80" cy="7.00" r=".7" fill="#fff"/><circle cx="12.10" cy="7.00" r=".7" fill="#fff"/><circle cx="15.40" cy="7.00" r=".7" fill="#fff"/><circle cx="3.85" cy="9.55" r=".7" fill="#fff"/><circle cx="7.15" cy="9.55" r=".7" fill="#fff"/><circle cx="10.45" cy="9.55" r=".7" fill="#fff"/><circle cx="13.75" cy="9.55" r=".7" fill="#fff"/><circle cx="2.20" cy="12.10" r=".7" fill="#fff"/><circle cx="5.50" cy="12.10" r=".7" fill="#fff"/><circle cx="8.80" cy="12.10" r=".7" fill="#fff"/><circle cx="12.10" cy="12.10" r=".7" fill="#fff"/><circle cx="15.40" cy="12.10" r=".7" fill="#fff"/></svg>
<div class="t " style="left:177px;top:1279px;width:620px;"><span class="wb">〖</span>美国电信<span class="hy">-</span><span class="dg">01</span><span class="cb wb">〗</span><span class="dg">2</span>.<span class="dg">5</span><span class="lc">x</span></div>
<div class="t c ty" style="left:798px;top:1278px;width:269px;">Shadowsocks</div>
<div class="cc dl" style="left:1067px;top:1278px;width:177px;background:#45cb55">400ms</div>
<div class="cc dl" style="left:1244px;top:1278px;width:222px;background:#f44605">1419ms</div>
<div class="cc ds" style="left:1466px;top:1278px;width:200px;background:#e1f8e9">8.99KB</div>
<div class="cc ds" style="left:1666px;top:1278px;width:200px;background:#e1f8e9">23.77KB</div>
<div class="t c ix" style="left:0px;top:1336px;width:118px;">22</div>
<svg class="fl" style="left:143px;top:1354px" width="28" height="20" viewBox="0 0 36 26" preserveAspectRatio="none"><rect width="36" height="26" fill="#EEE"/><rect y="0" width="36" height="2" fill="#B22334"/><rect y="4" width="36" height="2" fill="#B22334"/><rect y="8" width="36" height="2" fill="#B22334"/><rect y="12" width="36" height="2" fill="#B22334"/><rect y="16" width="36" height="2" fill="#B22334"/><rect y="20" width="36" height="2" fill="#B22334"/><rect y="24" width="36" height="2" fill="#B22334"/><rect width="17.600" height="14" fill="#3C3B6E"/><circle cx="2.20" cy="1.90" r=".7" fill="#fff"/><circle cx="5.50" cy="1.90" r=".7" fill="#fff"/><circle cx="8.80" cy="1.90" r=".7" fill="#fff"/><circle cx="12.10" cy="1.90" r=".7" fill="#fff"/><circle cx="15.40" cy="1.90" r=".7" fill="#fff"/><circle cx="3.85" cy="4.45" r=".7" fill="#fff"/><circle cx="7.15" cy="4.45" r=".7" fill="#fff"/><circle cx="10.45" cy="4.45" r=".7" fill="#fff"/><circle cx="13.75" cy="4.45" r=".7" fill="#fff"/><circle cx="2.20" cy="7.00" r=".7" fill="#fff"/><circle cx="5.50" cy="7.00" r=".7" fill="#fff"/><circle cx="8.80" cy="7.00" r=".7" fill="#fff"/><circle cx="12.10" cy="7.00" r=".7" fill="#fff"/><circle cx="15.40" cy="7.00" r=".7" fill="#fff"/><circle cx="3.85" cy="9.55" r=".7" fill="#fff"/><circle cx="7.15" cy="9.55" r=".7" fill="#fff"/><circle cx="10.45" cy="9.55" r=".7" fill="#fff"/><circle cx="13.75" cy="9.55" r=".7" fill="#fff"/><circle cx="2.20" cy="12.10" r=".7" fill="#fff"/><circle cx="5.50" cy="12.10" r=".7" fill="#fff"/><circle cx="8.80" cy="12.10" r=".7" fill="#fff"/><circle cx="12.10" cy="12.10" r=".7" fill="#fff"/><circle cx="15.40" cy="12.10" r=".7" fill="#fff"/></svg>
<div class="t " style="left:177px;top:1337px;width:620px;"><span class="wb">〖</span>美国电信<span class="hy">-</span><span class="dg">02</span><span class="cb wb">〗</span><span class="dg">1</span>.<span class="dg">5</span><span class="lc">x</span></div>
<div class="t c ty" style="left:798px;top:1336px;width:269px;">Shadowsocks</div>
<div class="cc dl" style="left:1067px;top:1336px;width:177px;background:#2adf62">242ms</div>
<div class="cc dl" style="left:1244px;top:1336px;width:222px;background:#7ba23d">713ms</div>
<div class="cc ds" style="left:1466px;top:1336px;width:200px;background:#83f8af">9.56MB</div>
<div class="cc ds" style="left:1666px;top:1336px;width:200px;background:#5cf897">13.55MB</div>
<div class="b" style="left:1867px;top:1389.5px;width:12px;height:2.5px;background:#cbf8db"></div>
<div class="b" style="left:1879px;top:1383.3px;width:12px;height:8.7px;background:#93f8b9"></div>
<div class="b" style="left:1891px;top:1382.3px;width:12px;height:9.7px;background:#8bf8b3"></div>
<div class="b" style="left:1903px;top:1382.3px;width:12px;height:9.7px;background:#8bf8b3"></div>
<div class="b" style="left:1915px;top:1383.9px;width:12px;height:8.1px;background:#99f8bc"></div>
<div class="b" style="left:1927px;top:1383.3px;width:12px;height:8.7px;background:#93f8b9"></div>
<div class="b" style="left:1939px;top:1383.3px;width:12px;height:8.7px;background:#93f8b9"></div>
<div class="b" style="left:1951px;top:1382.3px;width:12px;height:9.7px;background:#8bf8b3"></div>
<div class="b" style="left:1963px;top:1381.4px;width:12px;height:10.6px;background:#83f8ae"></div>
<div class="b" style="left:1975px;top:1377.3px;width:13px;height:14.7px;background:#5ef898"></div>
<div class="b" style="left:1988px;top:1378.3px;width:12px;height:13.7px;background:#67f89d"></div>
<div class="b" style="left:2000px;top:1380.2px;width:12px;height:11.8px;background:#78f8a8"></div>
<div class="b" style="left:2012px;top:1383.3px;width:12px;height:8.7px;background:#93f8b9"></div>
<div class="b" style="left:2024px;top:1380.2px;width:12px;height:11.8px;background:#78f8a8"></div>
<div class="b" style="left:2036px;top:1380.2px;width:14px;height:11.8px;background:#78f8a8"></div>
<div class="t c ix" style="left:0px;top:1394px;width:118px;">23</div>
<svg class="fl" style="left:143px;top:1412px" width="28" height="20" viewBox="0 0 36 26" preserveAspectRatio="none"><rect width="36" height="26" fill="#DE2910"/><g transform="rotate(0 18 13)"><path fill="#fff" d="M18 13.500C15.600 12 14.300 8.800 15.700 5.800C16.600 3.900 18.600 2.700 20.900 2.700C20 4.400 21.200 6.300 21.200 8.400C21.200 10.600 20 12.600 18 13.500Z"/><path fill="none" stroke="#DE2910" stroke-width=".5" d="M18.400 11.600c-1-1.700-.9-3.500.3-5"/></g><g transform="rotate(72 18 13)"><path fill="#fff" d="M18 13.500C15.600 12 14.300 8.800 15.700 5.800C16.600 3.900 18.600 2.700 20.900 2.700C20 4.400 21.200 6.300 21.200 8.400C21.200 10.600 20 12.600 18 13.500Z"/><path fill="none" stroke="#DE2910" stroke-width=".5" d="M18.400 11.600c-1-1.700-.9-3.500.3-5"/></g><g transform="rotate(144 18 13)"><path fill="#fff" d="M18 13.500C15.600 12 14.300 8.800 15.700 5.800C16.600 3.900 18.600 2.700 20.900 2.700C20 4.400 21.200 6.300 21.200 8.400C21.200 10.600 20 12.600 18 13.500Z"/><path fill="none" stroke="#DE2910" stroke-width=".5" d="M18.400 11.600c-1-1.700-.9-3.500.3-5"/></g><g transform="rotate(216 18 13)"><path fill="#fff" d="M18 13.500C15.600 12 14.300 8.800 15.700 5.800C16.600 3.900 18.600 2.700 20.900 2.700C20 4.400 21.200 6.300 21.200 8.400C21.200 10.600 20 12.600 18 13.500Z"/><path fill="none" stroke="#DE2910" stroke-width=".5" d="M18.400 11.600c-1-1.700-.9-3.500.3-5"/></g><g transform="rotate(288 18 13)"><path fill="#fff" d="M18 13.500C15.600 12 14.300 8.800 15.700 5.800C16.600 3.900 18.600 2.700 20.900 2.700C20 4.400 21.200 6.300 21.200 8.400C21.200 10.600 20 12.600 18 13.500Z"/><path fill="none" stroke="#DE2910" stroke-width=".5" d="M18.400 11.600c-1-1.700-.9-3.500.3-5"/></g></svg>
<div class="t " style="left:177px;top:1395px;width:620px;">【香港<span class="hy">-</span><span class="lc">V</span><span class="dg">6</span><span class="cb">】</span><span class="dg">01</span><span class="hy">-</span><span class="dg">1</span><span class="lc">x</span></div>
<div class="t c ty" style="left:798px;top:1394px;width:269px;">Shadowsocks</div>
<div class="cc dl" style="left:1067px;top:1394px;width:177px;background:#ff3e00">-</div>
<div class="cc dl" style="left:1244px;top:1394px;width:222px;background:#ff3e00">-</div>
<div class="cc ds" style="left:1466px;top:1394px;width:200px;background:#696969">0.00B</div>
<div class="cc ds" style="left:1666px;top:1394px;width:200px;background:#696969">0.00B</div>
<div class="t c ix" style="left:0px;top:1452px;width:118px;">24</div>
<svg class="fl" style="left:143px;top:1470px" width="28" height="20" viewBox="0 0 36 26" preserveAspectRatio="none"><rect width="36" height="26" fill="#DE2910"/><g transform="rotate(0 18 13)"><path fill="#fff" d="M18 13.500C15.600 12 14.300 8.800 15.700 5.800C16.600 3.900 18.600 2.700 20.900 2.700C20 4.400 21.200 6.300 21.200 8.400C21.200 10.600 20 12.600 18 13.500Z"/><path fill="none" stroke="#DE2910" stroke-width=".5" d="M18.400 11.600c-1-1.700-.9-3.500.3-5"/></g><g transform="rotate(72 18 13)"><path fill="#fff" d="M18 13.500C15.600 12 14.300 8.800 15.700 5.800C16.600 3.900 18.600 2.700 20.900 2.700C20 4.400 21.200 6.300 21.200 8.400C21.200 10.600 20 12.600 18 13.500Z"/><path fill="none" stroke="#DE2910" stroke-width=".5" d="M18.400 11.600c-1-1.700-.9-3.500.3-5"/></g><g transform="rotate(144 18 13)"><path fill="#fff" d="M18 13.500C15.600 12 14.300 8.800 15.700 5.800C16.600 3.900 18.600 2.700 20.900 2.700C20 4.400 21.200 6.300 21.200 8.400C21.200 10.600 20 12.600 18 13.500Z"/><path fill="none" stroke="#DE2910" stroke-width=".5" d="M18.400 11.600c-1-1.700-.9-3.500.3-5"/></g><g transform="rotate(216 18 13)"><path fill="#fff" d="M18 13.500C15.600 12 14.300 8.800 15.700 5.800C16.600 3.900 18.600 2.700 20.900 2.700C20 4.400 21.200 6.300 21.200 8.400C21.200 10.600 20 12.600 18 13.500Z"/><path fill="none" stroke="#DE2910" stroke-width=".5" d="M18.400 11.600c-1-1.700-.9-3.500.3-5"/></g><g transform="rotate(288 18 13)"><path fill="#fff" d="M18 13.500C15.600 12 14.300 8.800 15.700 5.800C16.600 3.900 18.600 2.700 20.900 2.700C20 4.400 21.200 6.300 21.200 8.400C21.200 10.600 20 12.600 18 13.500Z"/><path fill="none" stroke="#DE2910" stroke-width=".5" d="M18.400 11.600c-1-1.700-.9-3.500.3-5"/></g></svg>
<div class="t " style="left:177px;top:1453px;width:620px;">【香港<span class="hy">-</span>联通<span class="lc">V</span><span class="dg">6</span><span class="cb">】</span><span class="dg">02</span><span class="hy">-</span><span class="dg">1</span><span class="lc">x</span></div>
<div class="t c ty" style="left:798px;top:1452px;width:269px;">Shadowsocks</div>
<div class="cc dl" style="left:1067px;top:1452px;width:177px;background:#ff3e00">-</div>
<div class="cc dl" style="left:1244px;top:1452px;width:222px;background:#ff3e00">-</div>
<div class="cc ds" style="left:1466px;top:1452px;width:200px;background:#696969">0.00B</div>
<div class="cc ds" style="left:1666px;top:1452px;width:200px;background:#696969">0.00B</div>
<div class="t c ix" style="left:0px;top:1510px;width:118px;">25</div>
<svg class="fl" style="left:143px;top:1528px" width="28" height="20" viewBox="0 0 36 26" preserveAspectRatio="none"><rect width="36" height="26" fill="#DE2910"/><g transform="rotate(0 18 13)"><path fill="#fff" d="M18 13.500C15.600 12 14.300 8.800 15.700 5.800C16.600 3.900 18.600 2.700 20.900 2.700C20 4.400 21.200 6.300 21.200 8.400C21.200 10.600 20 12.600 18 13.500Z"/><path fill="none" stroke="#DE2910" stroke-width=".5" d="M18.400 11.600c-1-1.700-.9-3.500.3-5"/></g><g transform="rotate(72 18 13)"><path fill="#fff" d="M18 13.500C15.600 12 14.300 8.800 15.700 5.800C16.600 3.900 18.600 2.700 20.900 2.700C20 4.400 21.200 6.300 21.200 8.400C21.200 10.600 20 12.600 18 13.500Z"/><path fill="none" stroke="#DE2910" stroke-width=".5" d="M18.400 11.600c-1-1.700-.9-3.500.3-5"/></g><g transform="rotate(144 18 13)"><path fill="#fff" d="M18 13.500C15.600 12 14.300 8.800 15.700 5.800C16.600 3.900 18.600 2.700 20.900 2.700C20 4.400 21.200 6.300 21.200 8.400C21.200 10.600 20 12.600 18 13.500Z"/><path fill="none" stroke="#DE2910" stroke-width=".5" d="M18.400 11.600c-1-1.700-.9-3.500.3-5"/></g><g transform="rotate(216 18 13)"><path fill="#fff" d="M18 13.500C15.600 12 14.300 8.800 15.700 5.800C16.600 3.900 18.600 2.700 20.900 2.700C20 4.400 21.200 6.300 21.200 8.400C21.200 10.600 20 12.600 18 13.500Z"/><path fill="none" stroke="#DE2910" stroke-width=".5" d="M18.400 11.600c-1-1.700-.9-3.500.3-5"/></g><g transform="rotate(288 18 13)"><path fill="#fff" d="M18 13.500C15.600 12 14.300 8.800 15.700 5.800C16.600 3.900 18.600 2.700 20.900 2.700C20 4.400 21.200 6.300 21.200 8.400C21.200 10.600 20 12.600 18 13.500Z"/><path fill="none" stroke="#DE2910" stroke-width=".5" d="M18.400 11.600c-1-1.700-.9-3.500.3-5"/></g></svg>
<div class="t " style="left:177px;top:1511px;width:620px;">【香港<span class="hy">-</span><span class="up">AWS</span><span class="cb">】</span><span class="dg">03</span><span class="hy">-</span><span class="dg">1</span>.<span class="dg">5</span><span class="lc">x</span></div>
<div class="t c ty" style="left:798px;top:1510px;width:269px;">Shadowsocks</div>
<div class="cc dl" style="left:1067px;top:1510px;width:177px;background:#17ed6a">135ms</div>
<div class="cc dl" style="left:1244px;top:1510px;width:222px;background:#3dd159">356ms</div>
<div class="cc ds" style="left:1466px;top:1510px;width:200px;background:#1af885">27.05MB</div>
<div class="cc ds" style="left:1666px;top:1510px;width:200px;background:#19fa9c">32.44MB</div>
<div class="b" style="left:1867px;top:1539.3px;width:12px;height:26.7px;background:#1af87b"></div>
<div class="b" style="left:1879px;top:1536.0px;width:12px;height:30.0px;background:#1af885"></div>
<div class="b" style="left:1891px;top:1531.3px;width:12px;height:34.7px;background:#19f998"></div>
<div class="b" style="left:1903px;top:1531.3px;width:12px;height:34.7px;background:#19f998"></div>
<div class="b" style="left:1915px;top:1530.4px;width:12px;height:35.6px;background:#19fa9b"></div>
<div class="b" style="left:1927px;top:1531.3px;width:12px;height:34.7px;background:#19f998"></div>
<div class="b" style="left:1939px;top:1536.0px;width:12px;height:30.0px;background:#1af885"></div>
<div class="b" style="left:1951px;top:1538.4px;width:12px;height:27.6px;background:#1af87e"></div>
<div class="b" style="left:1963px;top:1561.4px;width:12px;height:4.6px;background:#b8f8d0"></div>
<div class="b" style="left:1975px;top:1535.2px;width:13px;height:30.8px;background:#1af888"></div>
<div class="b" style="left:1988px;top:1538.4px;width:12px;height:27.6px;background:#1af87e"></div>
<div class="b" style="left:2000px;top:1535.2px;width:12px;height:30.8px;background:#1af888"></div>
<div class="b" style="left:2012px;top:1534.5px;width:12px;height:31.5px;background:#1af88b"></div>
<div class="b" style="left:2024px;top:1534.5px;width:12px;height:31.5px;background:#1af88b"></div>
<div class="b" style="left:2036px;top:1533.3px;width:14px;height:32.7px;background:#1af990"></div>
<div class="t c ix" style="left:0px;top:1568px;width:118px;">26</div>
<svg class="fl" style="left:143px;top:1586px" width="28" height="20" viewBox="0 0 36 26" preserveAspectRatio="none"><rect width="36" height="26" fill="#DE2910"/><g transform="rotate(0 18 13)"><path fill="#fff" d="M18 13.500C15.600 12 14.300 8.800 15.700 5.800C16.600 3.900 18.600 2.700 20.900 2.700C20 4.400 21.200 6.300 21.200 8.400C21.200 10.600 20 12.600 18 13.500Z"/><path fill="none" stroke="#DE2910" stroke-width=".5" d="M18.400 11.600c-1-1.700-.9-3.500.3-5"/></g><g transform="rotate(72 18 13)"><path fill="#fff" d="M18 13.500C15.600 12 14.300 8.800 15.700 5.800C16.600 3.900 18.600 2.700 20.900 2.700C20 4.400 21.200 6.300 21.200 8.400C21.200 10.600 20 12.600 18 13.500Z"/><path fill="none" stroke="#DE2910" stroke-width=".5" d="M18.400 11.600c-1-1.700-.9-3.500.3-5"/></g><g transform="rotate(144 18 13)"><path fill="#fff" d="M18 13.500C15.600 12 14.300 8.800 15.700 5.800C16.600 3.900 18.600 2.700 20.900 2.700C20 4.400 21.200 6.300 21.200 8.400C21.200 10.600 20 12.600 18 13.500Z"/><path fill="none" stroke="#DE2910" stroke-width=".5" d="M18.400 11.600c-1-1.700-.9-3.500.3-5"/></g><g transform="rotate(216 18 13)"><path fill="#fff" d="M18 13.500C15.600 12 14.300 8.800 15.700 5.800C16.600 3.900 18.600 2.700 20.900 2.700C20 4.400 21.200 6.300 21.200 8.400C21.200 10.600 20 12.600 18 13.500Z"/><path fill="none" stroke="#DE2910" stroke-width=".5" d="M18.400 11.600c-1-1.700-.9-3.500.3-5"/></g><g transform="rotate(288 18 13)"><path fill="#fff" d="M18 13.500C15.600 12 14.300 8.800 15.700 5.800C16.600 3.900 18.600 2.700 20.900 2.700C20 4.400 21.200 6.300 21.200 8.400C21.200 10.600 20 12.600 18 13.500Z"/><path fill="none" stroke="#DE2910" stroke-width=".5" d="M18.400 11.600c-1-1.700-.9-3.500.3-5"/></g></svg>
<div class="t " style="left:177px;top:1569px;width:620px;">【香港<span class="hy">-</span><span class="up">AWS</span><span class="cb">】</span><span class="dg">04</span><span class="hy">-</span><span class="dg">1</span>.<span class="dg">5</span><span class="lc">x</span></div>
<div class="t c ty" style="left:798px;top:1568px;width:269px;">Shadowsocks</div>
<div class="cc dl" style="left:1067px;top:1568px;width:177px;background:#17ed6a">136ms</div>
<div class="cc dl" style="left:1244px;top:1568px;width:222px;background:#39d45b">331ms</div>
<div class="cc ds" style="left:1466px;top:1568px;width:200px;background:#1af883">26.73MB</div>
<div class="cc ds" style="left:1666px;top:1568px;width:200px;background:#19f998">31.58MB</div>
<div class="b" style="left:1867px;top:1616.5px;width:12px;height:7.5px;background:#9ef8c0"></div>
<div class="b" style="left:1879px;top:1594.4px;width:12px;height:29.6px;background:#1af884"></div>
<div class="b" style="left:1891px;top:1593.2px;width:12px;height:30.8px;background:#1af888"></div>
<div class="b" style="left:1903px;top:1593.2px;width:12px;height:30.8px;background:#1af888"></div>
<div class="b" style="left:1915px;top:1592.2px;width:12px;height:31.8px;background:#1af88c"></div>
<div class="b" style="left:1927px;top:1593.2px;width:12px;height:30.8px;background:#1af888"></div>
<div class="b" style="left:1939px;top:1593.2px;width:12px;height:30.8px;background:#1af888"></div>
<div class="b" style="left:1951px;top:1592.2px;width:12px;height:31.8px;background:#1af88c"></div>
<div class="b" style="left:1963px;top:1596.1px;width:12px;height:27.9px;background:#1af87f"></div>
<div class="b" style="left:1975px;top:1603.4px;width:13px;height:20.6px;background:#29f877"></div>
<div class="b" style="left:1988px;top:1591.3px;width:12px;height:32.7px;background:#1af990"></div>
<div class="b" style="left:2000px;top:1591.3px;width:12px;height:32.7px;background:#1af990"></div>
<div class="b" style="left:2012px;top:1589.6px;width:12px;height:34.4px;background:#19f997"></div>
<div class="b" style="left:2024px;top:1592.2px;width:12px;height:31.8px;background:#1af88c"></div>
<div class="b" style="left:2036px;top:1590.3px;width:14px;height:33.7px;background:#1af994"></div>
<div class="t c ix" style="left:0px;top:1626px;width:118px;">27</div>
<svg class="fl" style="left:143px;top:1644px" width="28" height="20" viewBox="0 0 36 26" preserveAspectRatio="none"><rect width="36" height="26" fill="#DE2910"/><g transform="rotate(0 18 13)"><path fill="#fff" d="M18 13.500C15.600 12 14.300 8.800 15.700 5.800C16.600 3.900 18.600 2.700 20.900 2.700C20 4.400 21.200 6.300 21.200 8.400C21.200 10.600 20 12.600 18 13.500Z"/><path fill="none" stroke="#DE2910" stroke-width=".5" d="M18.400 11.600c-1-1.700-.9-3.500.3-5"/></g><g transform="rotate(72 18 13)"><path fill="#fff" d="M18 13.500C15.600 12 14.300 8.800 15.700 5.800C16.600 3.900 18.600 2.700 20.900 2.700C20 4.400 21.200 6.300 21.200 8.400C21.200 10.600 20 12.600 18 13.500Z"/><path fill="none" stroke="#DE2910" stroke-width=".5" d="M18.400 11.600c-1-1.700-.9-3.500.3-5"/></g><g transform="rotate(144 18 13)"><path fill="#fff" d="M18 13.500C15.600 12 14.300 8.800 15.700 5.800C16.600 3.900 18.600 2.700 20.900 2.700C20 4.400 21.200 6.300 21.200 8.400C21.200 10.600 20 12.600 18 13.500Z"/><path fill="none" stroke="#DE2910" stroke-width=".5" d="M18.400 11.600c-1-1.700-.9-3.500.3-5"/></g><g transform="rotate(216 18 13)"><path fill="#fff" d="M18 13.500C15.600 12 14.300 8.800 15.700 5.800C16.600 3.900 18.600 2.700 20.900 2.700C20 4.400 21.200 6.300 21.200 8.400C21.200 10.600 20 12.600 18 13.500Z"/><path fill="none" stroke="#DE2910" stroke-width=".5" d="M18.400 11.600c-1-1.700-.9-3.500.3-5"/></g><g transform="rotate(288 18 13)"><path fill="#fff" d="M18 13.500C15.600 12 14.300 8.800 15.700 5.800C16.600 3.900 18.600 2.700 20.900 2.700C20 4.400 21.200 6.300 21.200 8.400C21.200 10.600 20 12.600 18 13.500Z"/><path fill="none" stroke="#DE2910" stroke-width=".5" d="M18.400 11.600c-1-1.700-.9-3.500.3-5"/></g></svg>
<div class="t " style="left:177px;top:1627px;width:620px;">【香港<span class="hy">-</span><span class="up">AWS</span><span class="cb">】</span><span class="dg">05</span><span class="hy">-</span><span class="dg">1</span>.<span class="dg">5</span><span class="lc">x</span></div>
<div class="t c ty" style="left:798px;top:1626px;width:269px;">Shadowsocks</div>
<div class="cc dl" style="left:1067px;top:1626px;width:177px;background:#17ee6a">133ms</div>
<div class="cc dl" style="left:1244px;top:1626px;width:222px;background:#37d55c">322ms</div>
<div class="cc ds" style="left:1466px;top:1626px;width:200px;background:#19f872">21.92MB</div>
<div class="cc ds" style="left:1666px;top:1626px;width:200px;background:#19f999">31.77MB</div>
<div class="b" style="left:1867px;top:1670.4px;width:12px;height:11.6px;background:#7af8a9"></div>
<div class="b" style="left:1879px;top:1652.2px;width:12px;height:29.8px;background:#1af885"></div>
<div class="b" style="left:1891px;top:1650.2px;width:12px;height:31.8px;background:#1af88c"></div>
<div class="b" style="left:1903px;top:1650.2px;width:12px;height:31.8px;background:#1af88c"></div>
<div class="b" style="left:1915px;top:1651.2px;width:12px;height:30.8px;background:#1af888"></div>
<div class="b" style="left:1927px;top:1650.2px;width:12px;height:31.8px;background:#1af88c"></div>
<div class="b" style="left:1939px;top:1650.2px;width:12px;height:31.8px;background:#1af88c"></div>
<div class="b" style="left:1951px;top:1650.2px;width:12px;height:31.8px;background:#1af88c"></div>
<div class="b" style="left:1963px;top:1658.2px;width:12px;height:23.8px;background:#19f871"></div>
<div class="b" style="left:1988px;top:1649.0px;width:12px;height:33.0px;background:#1af991"></div>
<div class="b" style="left:2000px;top:1647.1px;width:12px;height:34.9px;background:#19f999"></div>
<div class="b" style="left:2012px;top:1647.1px;width:12px;height:34.9px;background:#19f999"></div>
<div class="b" style="left:2024px;top:1681.5px;width:12px;height:0.5px;background:#ddf8e6"></div>
<div class="t c ix" style="left:0px;top:1684px;width:118px;">28</div>
<svg class="fl" style="left:143px;top:1702px" width="28" height="20" viewBox="0 0 36 26" preserveAspectRatio="none"><rect width="36" height="26" fill="#DE2910"/><g transform="rotate(0 18 13)"><path fill="#fff" d="M18 13.500C15.600 12 14.300 8.800 15.700 5.800C16.600 3.900 18.600 2.700 20.900 2.700C20 4.400 21.200 6.300 21.200 8.400C21.200 10.600 20 12.600 18 13.500Z"/><path fill="none" stroke="#DE2910" stroke-width=".5" d="M18.400 11.600c-1-1.700-.9-3.500.3-5"/></g><g transform="rotate(72 18 13)"><path fill="#fff" d="M18 13.500C15.600 12 14.300 8.800 15.700 5.800C16.600 3.900 18.600 2.700 20.900 2.700C20 4.400 21.200 6.300 21.200 8.400C21.200 10.600 20 12.600 18 13.500Z"/><path fill="none" stroke="#DE2910" stroke-width=".5" d="M18.400 11.600c-1-1.700-.9-3.500.3-5"/></g><g transform="rotate(144 18 13)"><path fill="#fff" d="M18 13.500C15.600 12 14.300 8.800 15.700 5.800C16.600 3.900 18.600 2.700 20.900 2.700C20 4.400 21.200 6.300 21.200 8.400C21.200 10.600 20 12.600 18 13.500Z"/><path fill="none" stroke="#DE2910" stroke-width=".5" d="M18.400 11.600c-1-1.700-.9-3.500.3-5"/></g><g transform="rotate(216 18 13)"><path fill="#fff" d="M18 13.500C15.600 12 14.300 8.800 15.700 5.800C16.600 3.900 18.600 2.700 20.900 2.700C20 4.400 21.200 6.300 21.200 8.400C21.200 10.600 20 12.600 18 13.500Z"/><path fill="none" stroke="#DE2910" stroke-width=".5" d="M18.400 11.600c-1-1.700-.9-3.500.3-5"/></g><g transform="rotate(288 18 13)"><path fill="#fff" d="M18 13.500C15.600 12 14.300 8.800 15.700 5.800C16.600 3.900 18.600 2.700 20.900 2.700C20 4.400 21.200 6.300 21.200 8.400C21.200 10.600 20 12.600 18 13.500Z"/><path fill="none" stroke="#DE2910" stroke-width=".5" d="M18.400 11.600c-1-1.700-.9-3.500.3-5"/></g></svg>
<div class="t " style="left:177px;top:1685px;width:620px;">【香港<span class="hy">-</span><span class="up">AWS</span><span class="cb">】</span><span class="dg">06</span><span class="hy">-</span><span class="dg">1</span>.<span class="dg">5</span><span class="lc">x</span></div>
<div class="t c ty" style="left:798px;top:1684px;width:269px;">Shadowsocks</div>
<div class="cc dl" style="left:1067px;top:1684px;width:177px;background:#1beb69">155ms</div>
<div class="cc dl" style="left:1244px;top:1684px;width:222px;background:#3bd25a">345ms</div>
<div class="cc ds" style="left:1466px;top:1684px;width:200px;background:#1af87f">25.40MB</div>
<div class="cc ds" style="left:1666px;top:1684px;width:200px;background:#19fba9">35.29MB</div>
<div class="b" style="left:1867px;top:1727.4px;width:12px;height:12.6px;background:#71f8a3"></div>
<div class="b" style="left:1879px;top:1706.3px;width:12px;height:33.7px;background:#1af994"></div>
<div class="b" style="left:1891px;top:1701.2px;width:12px;height:38.8px;background:#19fba8"></div>
<div class="b" style="left:1903px;top:1704.1px;width:12px;height:35.9px;background:#19fa9d"></div>
<div class="b" style="left:1915px;top:1703.1px;width:12px;height:36.9px;background:#19faa1"></div>
<div class="b" style="left:1927px;top:1703.1px;width:12px;height:36.9px;background:#19faa1"></div>
<div class="b" style="left:1939px;top:1704.1px;width:12px;height:35.9px;background:#19fa9d"></div>
<div class="b" style="left:1951px;top:1717.2px;width:12px;height:22.8px;background:#19f86e"></div>
<div class="b" style="left:1963px;top:1736.0px;width:12px;height:4.0px;background:#bdf8d3"></div>
<div class="b" style="left:1975px;top:1719.1px;width:13px;height:20.9px;background:#27f876"></div>
<div class="b" style="left:1988px;top:1728.1px;width:12px;height:11.9px;background:#77f8a7"></div>
<div class="b" style="left:2000px;top:1706.3px;width:12px;height:33.7px;background:#1af994"></div>
<div class="b" style="left:2012px;top:1710.0px;width:12px;height:30.0px;background:#1af885"></div>
<div class="b" style="left:2024px;top:1706.3px;width:12px;height:33.7px;background:#1af994"></div>
<div class="b" style="left:2036px;top:1711.4px;width:14px;height:28.6px;background:#1af881"></div>
<div class="t c ix" style="left:0px;top:1742px;width:118px;">29</div>
<svg class="fl" style="left:143px;top:1760px" width="28" height="20" viewBox="0 0 36 26" preserveAspectRatio="none"><rect width="36" height="26" fill="#00785E"/><circle cx="18" cy="11" r="3.400" fill="#fff"/><circle cx="14.300" cy="13.700" r="3.300" fill="#fff"/><circle cx="21.700" cy="13.700" r="3.300" fill="#fff"/><ellipse cx="18" cy="15.600" rx="7" ry="2.300" fill="#fff"/><path fill="none" stroke="#00785E" stroke-width=".5" d="M11 17.100h14"/><path fill="#fff" d="M11.600 17.700h12.800c-.5.800-1.300 1.500-2.300 2h-8.200c-1-.5-1.800-1.200-2.300-2zM14.600 20.300h6.800c-1 .600-2.200.900-3.400.900s-2.400-.3-3.400-.9z"/><polygon fill="#FBD116" points="18.00,2.60 18.38,3.77 19.62,3.77 18.62,4.50 19.00,5.68 18.00,4.95 17.00,5.68 17.38,4.50 16.38,3.77 17.62,3.77"/><polygon fill="#FBD116" points="13.50,4.65 13.74,5.38 14.50,5.38 13.88,5.82 14.12,6.55 13.50,6.10 12.88,6.55 13.12,5.82 12.50,5.38 13.26,5.38"/><polygon fill="#FBD116" points="22.50,4.65 22.74,5.38 23.50,5.38 22.88,5.82 23.12,6.55 22.50,6.10 21.88,6.55 22.12,5.82 21.50,5.38 22.26,5.38"/><polygon fill="#FBD116" points="10.70,7.75 10.94,8.48 11.70,8.48 11.08,8.92 11.32,9.65 10.70,9.20 10.08,9.65 10.32,8.92 9.70,8.48 10.46,8.48"/><polygon fill="#FBD116" points="25.30,7.75 25.54,8.48 26.30,8.48 25.68,8.92 25.92,9.65 25.30,9.20 24.68,9.65 24.92,8.92 24.30,8.48 25.06,8.48"/></svg>
<div class="t " style="left:177px;top:1743px;width:620px;">【澳门<span class="hy">-</span><span class="up">AWS</span><span class="cb">】</span><span class="dg">1</span>.<span class="dg">5</span><span class="lc">x</span><span class="hy">-</span><span class="lc">YouTube</span><span class="hy">-</span><span class="dg">90</span><span class="lc">%</span>无广</div>
<div class="t c ty" style="left:798px;top:1742px;width:269px;">Shadowsocks</div>
<div class="cc dl" style="left:1067px;top:1742px;width:177px;background:#ff3e00">-</div>
<div class="cc dl" style="left:1244px;top:1742px;width:222px;background:#ff3e00">-</div>
<div class="cc ds" style="left:1466px;top:1742px;width:200px;background:#1af87b">24.46MB</div>
<div class="cc ds" style="left:1666px;top:1742px;width:200px;background:#19f997">31.26MB</div>
<div class="b" style="left:1867px;top:1790.3px;width:12px;height:7.7px;background:#9cf8be"></div>
<div class="b" style="left:1879px;top:1765.3px;width:12px;height:32.7px;background:#1af990"></div>
<div class="b" style="left:1891px;top:1767.2px;width:12px;height:30.8px;background:#1af888"></div>
<div class="b" style="left:1903px;top:1765.3px;width:12px;height:32.7px;background:#1af990"></div>
<div class="b" style="left:1915px;top:1774.3px;width:12px;height:23.7px;background:#19f871"></div>
<div class="b" style="left:1927px;top:1764.2px;width:12px;height:33.8px;background:#19f994"></div>
<div class="b" style="left:1939px;top:1766.0px;width:12px;height:32.0px;background:#1af88d"></div>
<div class="b" style="left:1951px;top:1767.2px;width:12px;height:30.8px;background:#1af888"></div>
<div class="b" style="left:1963px;top:1768.2px;width:12px;height:29.8px;background:#1af885"></div>
<div class="b" style="left:1988px;top:1775.5px;width:12px;height:22.5px;background:#19f86d"></div>
<div class="b" style="left:2000px;top:1765.3px;width:12px;height:32.7px;background:#1af990"></div>
<div class="b" style="left:2012px;top:1774.3px;width:12px;height:23.7px;background:#19f871"></div>
<div class="b" style="left:2024px;top:1764.2px;width:12px;height:33.8px;background:#19f994"></div>
<div class="b" style="left:2036px;top:1763.1px;width:14px;height:34.9px;background:#19f999"></div>
<div class="t c ix" style="left:0px;top:1800px;width:118px;">30</div>
<svg class="fl" style="left:143px;top:1818px" width="28" height="20" viewBox="0 0 36 26" preserveAspectRatio="none"><rect width="36" height="26" fill="#EEE"/><rect y="0.000" width="36" height="1.857" fill="#DD2E44"/><rect y="3.714" width="36" height="1.857" fill="#DD2E44"/><rect y="7.428" width="36" height="1.857" fill="#DD2E44"/><rect y="11.142" width="36" height="1.857" fill="#DD2E44"/><rect y="14.856" width="36" height="1.857" fill="#DD2E44"/><rect y="18.570" width="36" height="1.857" fill="#DD2E44"/><rect y="22.284" width="36" height="1.857" fill="#DD2E44"/><rect width="18" height="14.86" fill="#010066"/><circle cx="8" cy="7.4" r="5.3" fill="#FFCC4D"/><circle cx="9.7" cy="7.4" r="4.6" fill="#010066"/><polygon fill="#FFCC4D" points="12.60,4.30 12.98,5.74 13.95,4.61 13.66,6.07 15.02,5.47 14.13,6.66 15.62,6.71 14.30,7.40 15.62,8.09 14.13,8.14 15.02,9.33 13.66,8.73 13.95,10.19 12.98,9.06 12.60,10.50 12.22,9.06 11.25,10.19 11.54,8.73 10.18,9.33 11.07,8.14 9.58,8.09 10.90,7.40 9.58,6.71 11.07,6.66 10.18,5.47 11.54,6.07 11.25,4.61 12.22,5.74"/></svg>
<div class="t " style="left:177px;top:1801px;width:620px;">【马来西亚原生<span class="cb">】</span><span class="dg">1</span>.<span class="dg">5</span><span class="lc">x</span></div>
<div class="t c ty" style="left:798px;top:1800px;width:269px;">Shadowsocks</div>
<div class="cc dl" style="left:1067px;top:1800px;width:177px;background:#1ee967">172ms</div>
<div class="cc dl" style="left:1244px;top:1800px;width:222px;background:#4ac753">428ms</div>
<div class="cc ds" style="left:1466px;top:1800px;width:200px;background:#77f8a7">10.79MB</div>
<div class="cc ds" style="left:1666px;top:1800px;width:200px;background:#1ef870">19.84MB</div>
<div class="b" style="left:1879px;top:1855.0px;width:12px;height:1.0px;background:#d8f8e3"></div>
<div class="b" style="left:1891px;top:1853.0px;width:12px;height:3.0px;background:#c6f8d8"></div>
<div class="b" style="left:1903px;top:1846.4px;width:12px;height:9.6px;background:#8bf8b4"></div>
<div class="b" style="left:1915px;top:1839.4px;width:12px;height:16.6px;background:#4df88d"></div>
<div class="b" style="left:1927px;top:1838.7px;width:12px;height:17.3px;background:#47f889"></div>
<div class="b" style="left:1939px;top:1842.8px;width:12px;height:13.2px;background:#6bf8a0"></div>
<div class="b" style="left:1951px;top:1836.5px;width:12px;height:19.5px;background:#33f87d"></div>
<div class="b" style="left:1963px;top:1834.6px;width:12px;height:21.4px;background:#22f873"></div>
<div class="b" style="left:1975px;top:1839.4px;width:13px;height:16.6px;background:#4df88d"></div>
<div class="b" style="left:1988px;top:1836.5px;width:12px;height:19.5px;background:#33f87d"></div>
<div class="b" style="left:2000px;top:1846.0px;width:12px;height:10.0px;background:#88f8b2"></div>
<div class="b" style="left:2012px;top:1837.7px;width:12px;height:18.3px;background:#3ef884"></div>
<div class="t c ix" style="left:0px;top:1858px;width:118px;">31</div>
<svg class="fl" style="left:143px;top:1876px" width="28" height="20" viewBox="0 0 36 26" preserveAspectRatio="none"><rect width="36" height="26" fill="#A7122D"/><rect y="4.2" width="36" height="17.6" fill="#EEE"/><rect y="8.7" width="36" height="8.6" fill="#292648"/></svg>
<div class="t " style="left:177px;top:1859px;width:620px;">【泰国原生<span class="hy">-</span><span class="lc">V</span><span class="dg">6</span><span class="cb">】</span><span class="dg">1</span><span class="lc">x</span></div>
<div class="t c ty" style="left:798px;top:1858px;width:269px;">Shadowsocks</div>
<div class="cc dl" style="left:1067px;top:1858px;width:177px;background:#ff3e00">-</div>
<div class="cc dl" style="left:1244px;top:1858px;width:222px;background:#ff3e00">-</div>
<div class="cc ds" style="left:1466px;top:1858px;width:200px;background:#696969">0.00B</div>
<div class="cc ds" style="left:1666px;top:1858px;width:200px;background:#696969">0.00B</div>
<div class="t c ix" style="left:0px;top:1916px;width:118px;">32</div>
<svg class="fl" style="left:143px;top:1934px" width="28" height="20" viewBox="0 0 36 26" preserveAspectRatio="none"><rect width="36" height="26" fill="#DE2910"/><polygon fill="#FFDE02" points="7.00,5.60 7.92,8.43 10.90,8.43 8.49,10.18 9.41,13.02 7.00,11.27 4.59,13.02 5.51,10.18 3.10,8.43 6.08,8.43"/><polygon fill="#FFDE02" points="12.53,3.82 12.34,4.71 13.12,5.16 12.22,5.25 12.03,6.14 11.66,5.31 10.76,5.41 11.43,4.80 11.06,3.97 11.85,4.43"/><polygon fill="#FFDE02" points="16.08,7.08 15.47,7.75 15.93,8.54 15.10,8.17 14.49,8.84 14.59,7.94 13.76,7.57 14.65,7.38 14.74,6.48 15.19,7.26"/><polygon fill="#FFDE02" points="14.90,10.25 15.18,11.11 16.09,11.11 15.35,11.65 15.63,12.51 14.90,11.98 14.17,12.51 14.45,11.65 13.71,11.11 14.62,11.11"/><polygon fill="#FFDE02" points="12.62,13.32 12.44,14.21 13.22,14.66 12.32,14.75 12.13,15.64 11.76,14.81 10.86,14.91 11.53,14.30 11.16,13.47 11.95,13.93"/></svg>
<div class="t " style="left:177px;top:1917px;width:620px;">【台湾<span class="hy">-</span><span class="lc">V</span><span class="dg">6</span><span class="cb">】</span><span class="dg">01</span><span class="hy">-</span><span class="dg">1</span>.<span class="dg">5</span><span class="lc">x</span></div>
<div class="t c ty" style="left:798px;top:1916px;width:269px;">Shadowsocks</div>
<div class="cc dl" style="left:1067px;top:1916px;width:177px;background:#ff3e00">-</div>
<div class="cc dl" style="left:1244px;top:1916px;width:222px;background:#ff3e00">-</div>
<div class="cc ds" style="left:1466px;top:1916px;width:200px;background:#696969">0.00B</div>
<div class="cc ds" style="left:1666px;top:1916px;width:200px;background:#696969">0.00B</div>
<div class="t c ix" style="left:0px;top:1974px;width:118px;">33</div>
<svg class="fl" style="left:143px;top:1992px" width="28" height="20" viewBox="0 0 36 26" preserveAspectRatio="none"><rect width="36" height="26" fill="#DE2910"/><polygon fill="#FFDE02" points="7.00,5.60 7.92,8.43 10.90,8.43 8.49,10.18 9.41,13.02 7.00,11.27 4.59,13.02 5.51,10.18 3.10,8.43 6.08,8.43"/><polygon fill="#FFDE02" points="12.53,3.82 12.34,4.71 13.12,5.16 12.22,5.25 12.03,6.14 11.66,5.31 10.76,5.41 11.43,4.80 11.06,3.97 11.85,4.43"/><polygon fill="#FFDE02" points="16.08,7.08 15.47,7.75 15.93,8.54 15.10,8.17 14.49,8.84 14.59,7.94 13.76,7.57 14.65,7.38 14.74,6.48 15.19,7.26"/><polygon fill="#FFDE02" points="14.90,10.25 15.18,11.11 16.09,11.11 15.35,11.65 15.63,12.51 14.90,11.98 14.17,12.51 14.45,11.65 13.71,11.11 14.62,11.11"/><polygon fill="#FFDE02" points="12.62,13.32 12.44,14.21 13.22,14.66 12.32,14.75 12.13,15.64 11.76,14.81 10.86,14.91 11.53,14.30 11.16,13.47 11.95,13.93"/></svg>
<div class="t " style="left:177px;top:1975px;width:620px;">【台湾<span class="hy">-</span>联通<span class="lc">V</span><span class="dg">6</span><span class="cb">】</span><span class="dg">02</span><span class="hy">-</span><span class="dg">1</span>.<span class="dg">5</span><span class="lc">x</span></div>
<div class="t c ty" style="left:798px;top:1974px;width:269px;">Shadowsocks</div>
<div class="cc dl" style="left:1067px;top:1974px;width:177px;background:#ff3e00">-</div>
<div class="cc dl" style="left:1244px;top:1974px;width:222px;background:#ff3e00">-</div>
<div class="cc ds" style="left:1466px;top:1974px;width:200px;background:#696969">0.00B</div>
<div class="cc ds" style="left:1666px;top:1974px;width:200px;background:#696969">0.00B</div>
<div class="t c ix" style="left:0px;top:2032px;width:118px;">34</div>
<svg class="fl" style="left:143px;top:2050px" width="28" height="20" viewBox="0 0 36 26" preserveAspectRatio="none"><rect width="36" height="26" fill="#DE2910"/><polygon fill="#FFDE02" points="7.00,5.60 7.92,8.43 10.90,8.43 8.49,10.18 9.41,13.02 7.00,11.27 4.59,13.02 5.51,10.18 3.10,8.43 6.08,8.43"/><polygon fill="#FFDE02" points="12.53,3.82 12.34,4.71 13.12,5.16 12.22,5.25 12.03,6.14 11.66,5.31 10.76,5.41 11.43,4.80 11.06,3.97 11.85,4.43"/><polygon fill="#FFDE02" points="16.08,7.08 15.47,7.75 15.93,8.54 15.10,8.17 14.49,8.84 14.59,7.94 13.76,7.57 14.65,7.38 14.74,6.48 15.19,7.26"/><polygon fill="#FFDE02" points="14.90,10.25 15.18,11.11 16.09,11.11 15.35,11.65 15.63,12.51 14.90,11.98 14.17,12.51 14.45,11.65 13.71,11.11 14.62,11.11"/><polygon fill="#FFDE02" points="12.62,13.32 12.44,14.21 13.22,14.66 12.32,14.75 12.13,15.64 11.76,14.81 10.86,14.91 11.53,14.30 11.16,13.47 11.95,13.93"/></svg>
<div class="t " style="left:177px;top:2033px;width:620px;">【台湾<span class="hy">-</span>家宽<span class="up">AWS</span><span class="cb">】</span> <span class="dg">2</span>.<span class="dg">5</span><span class="lc">x</span></div>
<div class="t c ty" style="left:798px;top:2032px;width:269px;">Shadowsocks</div>
<div class="cc dl" style="left:1067px;top:2032px;width:177px;background:#1ee867">175ms</div>
<div class="cc dl" style="left:1244px;top:2032px;width:222px;background:#fd3f01">1469ms</div>
<div class="cc ds" style="left:1466px;top:2032px;width:200px;background:#47f88a">15.68MB</div>
<div class="cc ds" style="left:1666px;top:2032px;width:200px;background:#1af98e">29.40MB</div>
<div class="b" style="left:1879px;top:2072.2px;width:12px;height:15.8px;background:#54f892"></div>
<div class="b" style="left:1891px;top:2056.0px;width:12px;height:32.0px;background:#1af88d"></div>
<div class="b" style="left:1903px;top:2056.0px;width:12px;height:32.0px;background:#1af88d"></div>
<div class="b" style="left:1915px;top:2061.2px;width:12px;height:26.8px;background:#1af87b"></div>
<div class="b" style="left:1927px;top:2062.2px;width:12px;height:25.8px;background:#19f878"></div>
<div class="b" style="left:1939px;top:2061.2px;width:12px;height:26.8px;background:#1af87b"></div>
<div class="b" style="left:1951px;top:2065.2px;width:12px;height:22.8px;background:#19f86e"></div>
<div class="b" style="left:1963px;top:2067.0px;width:12px;height:21.0px;background:#26f875"></div>
<div class="b" style="left:1975px;top:2058.0px;width:13px;height:30.0px;background:#1af885"></div>
<div class="b" style="left:1988px;top:2068.0px;width:12px;height:20.0px;background:#2ff87a"></div>
<div class="b" style="left:2012px;top:2087.0px;width:12px;height:1.0px;background:#d8f8e3"></div>
<div class="t c ix" style="left:0px;top:2090px;width:118px;">35</div>
<svg class="fl" style="left:143px;top:2108px" width="28" height="20" viewBox="0 0 36 26" preserveAspectRatio="none"><rect width="36" height="26" fill="#DE2910"/><polygon fill="#FFDE02" points="7.00,5.60 7.92,8.43 10.90,8.43 8.49,10.18 9.41,13.02 7.00,11.27 4.59,13.02 5.51,10.18 3.10,8.43 6.08,8.43"/><polygon fill="#FFDE02" points="12.53,3.82 12.34,4.71 13.12,5.16 12.22,5.25 12.03,6.14 11.66,5.31 10.76,5.41 11.43,4.80 11.06,3.97 11.85,4.43"/><polygon fill="#FFDE02" points="16.08,7.08 15.47,7.75 15.93,8.54 15.10,8.17 14.49,8.84 14.59,7.94 13.76,7.57 14.65,7.38 14.74,6.48 15.19,7.26"/><polygon fill="#FFDE02" points="14.90,10.25 15.18,11.11 16.09,11.11 15.35,11.65 15.63,12.51 14.90,11.98 14.17,12.51 14.45,11.65 13.71,11.11 14.62,11.11"/><polygon fill="#FFDE02" points="12.62,13.32 12.44,14.21 13.22,14.66 12.32,14.75 12.13,15.64 11.76,14.81 10.86,14.91 11.53,14.30 11.16,13.47 11.95,13.93"/></svg>
<div class="t " style="left:177px;top:2091px;width:620px;">【台湾<span class="hy">-</span><span class="up">AWS</span><span class="cb">】</span><span class="dg">01</span><span class="hy">-</span><span class="dg">1</span>.<span class="dg">5</span><span class="lc">x</span></div>
<div class="t c ty" style="left:798px;top:2090px;width:269px;">Shadowsocks</div>
<div class="cc dl" style="left:1067px;top:2090px;width:177px;background:#1beb69">157ms</div>
<div class="cc dl" style="left:1244px;top:2090px;width:222px;background:#42cd57">383ms</div>
<div class="cc ds" style="left:1466px;top:2090px;width:200px;background:#dff8e8">214.44KB</div>
<div class="cc ds" style="left:1666px;top:2090px;width:200px;background:#ddf8e7">417.60KB</div>
<div class="t c ix" style="left:0px;top:2148px;width:118px;">36</div>
<svg class="fl" style="left:143px;top:2166px" width="28" height="20" viewBox="0 0 36 26" preserveAspectRatio="none"><rect width="36" height="26" fill="#DE2910"/><polygon fill="#FFDE02" points="7.00,5.60 7.92,8.43 10.90,8.43 8.49,10.18 9.41,13.02 7.00,11.27 4.59,13.02 5.51,10.18 3.10,8.43 6.08,8.43"/><polygon fill="#FFDE02" points="12.53,3.82 12.34,4.71 13.12,5.16 12.22,5.25 12.03,6.14 11.66,5.31 10.76,5.41 11.43,4.80 11.06,3.97 11.85,4.43"/><polygon fill="#FFDE02" points="16.08,7.08 15.47,7.75 15.93,8.54 15.10,8.17 14.49,8.84 14.59,7.94 13.76,7.57 14.65,7.38 14.74,6.48 15.19,7.26"/><polygon fill="#FFDE02" points="14.90,10.25 15.18,11.11 16.09,11.11 15.35,11.65 15.63,12.51 14.90,11.98 14.17,12.51 14.45,11.65 13.71,11.11 14.62,11.11"/><polygon fill="#FFDE02" points="12.62,13.32 12.44,14.21 13.22,14.66 12.32,14.75 12.13,15.64 11.76,14.81 10.86,14.91 11.53,14.30 11.16,13.47 11.95,13.93"/></svg>
<div class="t " style="left:177px;top:2149px;width:620px;">【台湾<span class="hy">-</span><span class="up">AWS</span><span class="cb">】</span><span class="dg">02</span><span class="hy">-</span><span class="dg">1</span>.<span class="dg">5</span><span class="lc">x</span></div>
<div class="t c ty" style="left:798px;top:2148px;width:269px;">Shadowsocks</div>
<div class="cc dl" style="left:1067px;top:2148px;width:177px;background:#1beb69">156ms</div>
<div class="cc dl" style="left:1244px;top:2148px;width:222px;background:#41ce57">379ms</div>
<div class="cc ds" style="left:1466px;top:2148px;width:200px;background:#1af87c">24.72MB</div>
<div class="cc ds" style="left:1666px;top:2148px;width:200px;background:#1af88d">29.10MB</div>
<div class="b" style="left:1867px;top:2189.4px;width:12px;height:14.6px;background:#5ff898"></div>
<div class="b" style="left:1879px;top:2174.4px;width:12px;height:29.6px;background:#1af884"></div>
<div class="b" style="left:1891px;top:2173.3px;width:12px;height:30.7px;background:#1af888"></div>
<div class="b" style="left:1903px;top:2173.3px;width:12px;height:30.7px;background:#1af888"></div>
<div class="b" style="left:1915px;top:2174.8px;width:12px;height:29.2px;background:#1af883"></div>
<div class="b" style="left:1927px;top:2173.3px;width:12px;height:30.7px;background:#1af888"></div>
<div class="b" style="left:1939px;top:2173.3px;width:12px;height:30.7px;background:#1af888"></div>
<div class="b" style="left:1951px;top:2174.4px;width:12px;height:29.6px;background:#1af884"></div>
<div class="b" style="left:1963px;top:2176.0px;width:12px;height:28.0px;background:#1af87f"></div>
<div class="b" style="left:1988px;top:2176.0px;width:12px;height:28.0px;background:#1af87f"></div>
<div class="b" style="left:2000px;top:2174.4px;width:12px;height:29.6px;background:#1af884"></div>
<div class="b" style="left:2012px;top:2174.4px;width:12px;height:29.6px;background:#1af884"></div>
<div class="b" style="left:2024px;top:2172.3px;width:12px;height:31.7px;background:#1af88c"></div>
<div class="b" style="left:2036px;top:2172.3px;width:14px;height:31.7px;background:#1af88c"></div>
<div class="t c ix" style="left:0px;top:2206px;width:118px;">37</div>
<svg class="fl" style="left:143px;top:2224px" width="28" height="20" viewBox="0 0 36 26" preserveAspectRatio="none"><rect width="36" height="26" fill="#EEE"/><rect width="36" height="13" fill="#ED2939"/><circle cx="8" cy="6.600" r="5.100" fill="#fff"/><circle cx="10.200" cy="6.600" r="4.600" fill="#ED2939"/><polygon fill="#fff" points="12.70,2.75 12.96,3.54 13.79,3.54 13.12,4.04 13.38,4.83 12.70,4.34 12.02,4.83 12.28,4.04 11.61,3.54 12.44,3.54"/><polygon fill="#fff" points="15.55,4.82 15.81,5.62 16.65,5.62 15.97,6.11 16.23,6.90 15.55,6.41 14.88,6.90 15.14,6.11 14.46,5.62 15.29,5.62"/><polygon fill="#fff" points="14.46,8.18 14.72,8.97 15.56,8.97 14.88,9.46 15.14,10.26 14.46,9.77 13.79,10.26 14.05,9.46 13.37,8.97 14.21,8.97"/><polygon fill="#fff" points="10.94,8.18 11.19,8.97 12.03,8.97 11.35,9.46 11.61,10.26 10.94,9.77 10.26,10.26 10.52,9.46 9.84,8.97 10.68,8.97"/><polygon fill="#fff" points="9.85,4.82 10.11,5.62 10.94,5.62 10.26,6.11 10.52,6.90 9.85,6.41 9.17,6.90 9.43,6.11 8.75,5.62 9.59,5.62"/></svg>
<div class="t " style="left:177px;top:2207px;width:620px;">【新加坡<span class="hy">-</span><span class="lc">V</span><span class="dg">6</span><span class="cb">】</span><span class="dg">01</span><span class="hy">-</span><span class="dg">1</span><span class="lc">x</span></div>
<div class="t c ty" style="left:798px;top:2206px;width:269px;">Shadowsocks</div>
<div class="cc dl" style="left:1067px;top:2206px;width:177px;background:#ff3e00">-</div>
<div class="cc dl" style="left:1244px;top:2206px;width:222px;background:#ff3e00">-</div>
<div class="cc ds" style="left:1466px;top:2206px;width:200px;background:#696969">0.00B</div>
<div class="cc ds" style="left:1666px;top:2206px;width:200px;background:#696969">0.00B</div>
<div class="t c ix" style="left:0px;top:2264px;width:118px;">38</div>
<svg class="fl" style="left:143px;top:2282px" width="28" height="20" viewBox="0 0 36 26" preserveAspectRatio="none"><rect width="36" height="26" fill="#EEE"/><rect width="36" height="13" fill="#ED2939"/><circle cx="8" cy="6.600" r="5.100" fill="#fff"/><circle cx="10.200" cy="6.600" r="4.600" fill="#ED2939"/><polygon fill="#fff" points="12.70,2.75 12.96,3.54 13.79,3.54 13.12,4.04 13.38,4.83 12.70,4.34 12.02,4.83 12.28,4.04 11.61,3.54 12.44,3.54"/><polygon fill="#fff" points="15.55,4.82 15.81,5.62 16.65,5.62 15.97,6.11 16.23,6.90 15.55,6.41 14.88,6.90 15.14,6.11 14.46,5.62 15.29,5.62"/><polygon fill="#fff" points="14.46,8.18 14.72,8.97 15.56,8.97 14.88,9.46 15.14,10.26 14.46,9.77 13.79,10.26 14.05,9.46 13.37,8.97 14.21,8.97"/><polygon fill="#fff" points="10.94,8.18 11.19,8.97 12.03,8.97 11.35,9.46 11.61,10.26 10.94,9.77 10.26,10.26 10.52,9.46 9.84,8.97 10.68,8.97"/><polygon fill="#fff" points="9.85,4.82 10.11,5.62 10.94,5.62 10.26,6.11 10.52,6.90 9.85,6.41 9.17,6.90 9.43,6.11 8.75,5.62 9.59,5.62"/></svg>
<div class="t " style="left:177px;top:2265px;width:620px;">【新加坡<span class="hy">-</span>联通<span class="lc">V</span><span class="dg">6</span><span class="cb">】</span><span class="dg">02</span><span class="hy">-</span><span class="dg">1</span><span class="lc">x</span></div>
<div class="t c ty" style="left:798px;top:2264px;width:269px;">Shadowsocks</div>
<div class="cc dl" style="left:1067px;top:2264px;width:177px;background:#ff3e00">-</div>
<div class="cc dl" style="left:1244px;top:2264px;width:222px;background:#ff3e00">-</div>
<div class="cc ds" style="left:1466px;top:2264px;width:200px;background:#696969">0.00B</div>
<div class="cc ds" style="left:1666px;top:2264px;width:200px;background:#696969">0.00B</div>
<div class="t c ix" style="left:0px;top:2322px;width:118px;">39</div>
<svg class="fl" style="left:143px;top:2340px" width="28" height="20" viewBox="0 0 36 26" preserveAspectRatio="none"><rect width="36" height="26" fill="#EEE"/><circle cx="18" cy="13" r="7" fill="#ED1B2F"/></svg>
<div class="t " style="left:177px;top:2323px;width:620px;">【日本<span class="hy">-</span><span class="lc">V</span><span class="dg">6</span><span class="cb">】</span><span class="dg">01</span><span class="hy">-</span><span class="dg">1</span><span class="lc">x</span></div>
<div class="t c ty" style="left:798px;top:2322px;width:269px;">Shadowsocks</div>
<div class="cc dl" style="left:1067px;top:2322px;width:177px;background:#ff3e00">-</div>
<div class="cc dl" style="left:1244px;top:2322px;width:222px;background:#ff3e00">-</div>
<div class="cc ds" style="left:1466px;top:2322px;width:200px;background:#696969">0.00B</div>
<div class="cc ds" style="left:1666px;top:2322px;width:200px;background:#696969">0.00B</div>
<div class="t c ix" style="left:0px;top:2380px;width:118px;">40</div>
<svg class="fl" style="left:143px;top:2398px" width="28" height="20" viewBox="0 0 36 26" preserveAspectRatio="none"><rect width="36" height="26" fill="#EEE"/><circle cx="18" cy="13" r="7" fill="#ED1B2F"/></svg>
<div class="t " style="left:177px;top:2381px;width:620px;">【日本<span class="hy">-</span>联通<span class="lc">V</span><span class="dg">6</span><span class="cb">】</span><span class="dg">02</span><span class="hy">-</span><span class="dg">1</span><span class="lc">x</span></div>
<div class="t c ty" style="left:798px;top:2380px;width:269px;">Shadowsocks</div>
<div class="cc dl" style="left:1067px;top:2380px;width:177px;background:#ff3e00">-</div>
<div class="cc dl" style="left:1244px;top:2380px;width:222px;background:#ff3e00">-</div>
<div class="cc ds" style="left:1466px;top:2380px;width:200px;background:#696969">0.00B</div>
<div class="cc ds" style="left:1666px;top:2380px;width:200px;background:#696969">0.00B</div>
<div class="t c ix" style="left:0px;top:2438px;width:118px;">41</div>
<svg class="fl" style="left:143px;top:2456px" width="28" height="20" viewBox="0 0 36 26" preserveAspectRatio="none"><rect width="36" height="26" fill="#EEE"/><circle cx="18" cy="13" r="7" fill="#ED1B2F"/></svg>
<div class="t " style="left:177px;top:2439px;width:620px;">【日本<span class="hy">-</span><span class="up">AWS</span><span class="cb">】</span><span class="dg">03</span><span class="hy">-</span><span class="dg">1</span>.<span class="dg">5</span><span class="lc">x</span></div>
<div class="t c ty" style="left:798px;top:2438px;width:269px;">Shadowsocks</div>
<div class="cc dl" style="left:1067px;top:2438px;width:177px;background:#0ef46e">83ms</div>
<div class="cc dl" style="left:1244px;top:2438px;width:222px;background:#38d55b">325ms</div>
<div class="cc ds" style="left:1466px;top:2438px;width:200px;background:#1ae7d3">46.30MB</div>
<div class="cc ds" style="left:1666px;top:2438px;width:200px;background:#1ab4fc">62.31MB</div>
<div class="b" style="left:1867px;top:2460.0px;width:12px;height:34.0px;background:#19f995"></div>
<div class="b" style="left:1879px;top:2440.0px;width:12px;height:54.0px;background:#1abbf6"></div>
<div class="b" style="left:1891px;top:2440.0px;width:12px;height:54.0px;background:#1abbf6"></div>
<div class="b" style="left:1903px;top:2442.0px;width:12px;height:52.0px;background:#1ac2f1"></div>
<div class="b" style="left:1915px;top:2482.2px;width:12px;height:11.8px;background:#78f8a8"></div>
<div class="b" style="left:1939px;top:2446.2px;width:12px;height:47.8px;background:#1acee7"></div>
<div class="b" style="left:1951px;top:2440.0px;width:12px;height:54.0px;background:#1abbf6"></div>
<div class="b" style="left:1963px;top:2438.0px;width:12px;height:56.0px;background:#1ab5fb"></div>
<div class="b" style="left:1975px;top:2445.0px;width:13px;height:49.0px;background:#1ad2e4"></div>
<div class="b" style="left:1988px;top:2474.0px;width:12px;height:20.0px;background:#31f87c"></div>
<div class="b" style="left:2000px;top:2439.0px;width:12px;height:55.0px;background:#1ab8f9"></div>
<div class="b" style="left:2012px;top:2443.0px;width:12px;height:51.0px;background:#1ac8ec"></div>
<div class="b" style="left:2024px;top:2442.0px;width:12px;height:52.0px;background:#1ac5ee"></div>
<div class="b" style="left:2036px;top:2466.0px;width:14px;height:28.0px;background:#1af87f"></div>
<div class="t c ix" style="left:0px;top:2496px;width:118px;">42</div>
<svg class="fl" style="left:143px;top:2514px" width="28" height="20" viewBox="0 0 36 26" preserveAspectRatio="none"><rect width="36" height="26" fill="#EEE"/><rect y="0" width="36" height="2" fill="#B22334"/><rect y="4" width="36" height="2" fill="#B22334"/><rect y="8" width="36" height="2" fill="#B22334"/><rect y="12" width="36" height="2" fill="#B22334"/><rect y="16" width="36" height="2" fill="#B22334"/><rect y="20" width="36" height="2" fill="#B22334"/><rect y="24" width="36" height="2" fill="#B22334"/><rect width="17.600" height="14" fill="#3C3B6E"/><circle cx="2.20" cy="1.90" r=".7" fill="#fff"/><circle cx="5.50" cy="1.90" r=".7" fill="#fff"/><circle cx="8.80" cy="1.90" r=".7" fill="#fff"/><circle cx="12.10" cy="1.90" r=".7" fill="#fff"/><circle cx="15.40" cy="1.90" r=".7" fill="#fff"/><circle cx="3.85" cy="4.45" r=".7" fill="#fff"/><circle cx="7.15" cy="4.45" r=".7" fill="#fff"/><circle cx="10.45" cy="4.45" r=".7" fill="#fff"/><circle cx="13.75" cy="4.45" r=".7" fill="#fff"/><circle cx="2.20" cy="7.00" r=".7" fill="#fff"/><circle cx="5.50" cy="7.00" r=".7" fill="#fff"/><circle cx="8.80" cy="7.00" r=".7" fill="#fff"/><circle cx="12.10" cy="7.00" r=".7" fill="#fff"/><circle cx="15.40" cy="7.00" r=".7" fill="#fff"/><circle cx="3.85" cy="9.55" r=".7" fill="#fff"/><circle cx="7.15" cy="9.55" r=".7" fill="#fff"/><circle cx="10.45" cy="9.55" r=".7" fill="#fff"/><circle cx="13.75" cy="9.55" r=".7" fill="#fff"/><circle cx="2.20" cy="12.10" r=".7" fill="#fff"/><circle cx="5.50" cy="12.10" r=".7" fill="#fff"/><circle cx="8.80" cy="12.10" r=".7" fill="#fff"/><circle cx="12.10" cy="12.10" r=".7" fill="#fff"/><circle cx="15.40" cy="12.10" r=".7" fill="#fff"/></svg>
<div class="t " style="left:177px;top:2497px;width:620px;">【美国原生<span class="hy">-</span><span class="up">AWS</span><span class="cb">】</span><span class="dg">01</span><span class="hy">-</span><span class="dg">1</span>.<span class="dg">5</span><span class="lc">x</span></div>
<div class="t c ty" style="left:798px;top:2496px;width:269px;">Shadowsocks</div>
<div class="cc dl" style="left:1067px;top:2496px;width:177px;background:#33d85d">298ms</div>
<div class="cc dl" style="left:1244px;top:2496px;width:222px;background:#8c9535">814ms</div>
<div class="cc ds" style="left:1466px;top:2496px;width:200px;background:#4af88b">15.43MB</div>
<div class="cc ds" style="left:1666px;top:2496px;width:200px;background:#24f874">19.32MB</div>
<div class="b" style="left:1867px;top:2551.5px;width:12px;height:0.5px;background:#ddf8e6"></div>
<div class="b" style="left:1879px;top:2541.7px;width:12px;height:10.3px;background:#85f8b0"></div>
<div class="b" style="left:1891px;top:2535.4px;width:12px;height:16.6px;background:#4df88d"></div>
<div class="b" style="left:1903px;top:2535.4px;width:12px;height:16.6px;background:#4df88d"></div>
<div class="b" style="left:1915px;top:2533.3px;width:12px;height:18.7px;background:#3af882"></div>
<div class="b" style="left:1927px;top:2533.3px;width:12px;height:18.7px;background:#3af882"></div>
<div class="b" style="left:1939px;top:2534.2px;width:12px;height:17.8px;background:#42f887"></div>
<div class="b" style="left:1951px;top:2532.3px;width:12px;height:19.7px;background:#31f87c"></div>
<div class="b" style="left:1963px;top:2533.3px;width:12px;height:18.7px;background:#3af882"></div>
<div class="b" style="left:1975px;top:2536.0px;width:13px;height:16.0px;background:#52f891"></div>
<div class="b" style="left:1988px;top:2531.3px;width:12px;height:20.7px;background:#29f877"></div>
<div class="b" style="left:2000px;top:2533.3px;width:12px;height:18.7px;background:#3af882"></div>
<div class="b" style="left:2012px;top:2531.3px;width:12px;height:20.7px;background:#29f877"></div>
<div class="b" style="left:2024px;top:2533.3px;width:12px;height:18.7px;background:#3af882"></div>
<div class="b" style="left:2036px;top:2537.5px;width:14px;height:14.5px;background:#60f899"></div>
<div class="t c ix" style="left:0px;top:2554px;width:118px;">43</div>
<svg class="fl" style="left:143px;top:2572px" width="28" height="20" viewBox="0 0 36 26" preserveAspectRatio="none"><rect width="36" height="26" fill="#EEE"/><rect y="0" width="36" height="2" fill="#B22334"/><rect y="4" width="36" height="2" fill="#B22334"/><rect y="8" width="36" height="2" fill="#B22334"/><rect y="12" width="36" height="2" fill="#B22334"/><rect y="16" width="36" height="2" fill="#B22334"/><rect y="20" width="36" height="2" fill="#B22334"/><rect y="24" width="36" height="2" fill="#B22334"/><rect width="17.600" height="14" fill="#3C3B6E"/><circle cx="2.20" cy="1.90" r=".7" fill="#fff"/><circle cx="5.50" cy="1.90" r=".7" fill="#fff"/><circle cx="8.80" cy="1.90" r=".7" fill="#fff"/><circle cx="12.10" cy="1.90" r=".7" fill="#fff"/><circle cx="15.40" cy="1.90" r=".7" fill="#fff"/><circle cx="3.85" cy="4.45" r=".7" fill="#fff"/><circle cx="7.15" cy="4.45" r=".7" fill="#fff"/><circle cx="10.45" cy="4.45" r=".7" fill="#fff"/><circle cx="13.75" cy="4.45" r=".7" fill="#fff"/><circle cx="2.20" cy="7.00" r=".7" fill="#fff"/><circle cx="5.50" cy="7.00" r=".7" fill="#fff"/><circle cx="8.80" cy="7.00" r=".7" fill="#fff"/><circle cx="12.10" cy="7.00" r=".7" fill="#fff"/><circle cx="15.40" cy="7.00" r=".7" fill="#fff"/><circle cx="3.85" cy="9.55" r=".7" fill="#fff"/><circle cx="7.15" cy="9.55" r=".7" fill="#fff"/><circle cx="10.45" cy="9.55" r=".7" fill="#fff"/><circle cx="13.75" cy="9.55" r=".7" fill="#fff"/><circle cx="2.20" cy="12.10" r=".7" fill="#fff"/><circle cx="5.50" cy="12.10" r=".7" fill="#fff"/><circle cx="8.80" cy="12.10" r=".7" fill="#fff"/><circle cx="12.10" cy="12.10" r=".7" fill="#fff"/><circle cx="15.40" cy="12.10" r=".7" fill="#fff"/></svg>
<div class="t " style="left:177px;top:2555px;width:620px;">【美国<span class="hy">-</span><span class="lc">V</span><span class="dg">6</span><span class="cb">】</span><span class="dg">01</span><span class="hy">-</span><span class="dg">1</span>.<span class="dg">5</span><span class="lc">x</span></div>
<div class="t c ty" style="left:798px;top:2554px;width:269px;">Shadowsocks</div>
<div class="cc dl" style="left:1067px;top:2554px;width:177px;background:#ff3e00">-</div>
<div class="cc dl" style="left:1244px;top:2554px;width:222px;background:#ff3e00">-</div>
<div class="cc ds" style="left:1466px;top:2554px;width:200px;background:#696969">0.00B</div>
<div class="cc ds" style="left:1666px;top:2554px;width:200px;background:#696969">0.00B</div>
<div class="t c ix" style="left:0px;top:2612px;width:118px;">44</div>
<svg class="fl" style="left:143px;top:2630px" width="28" height="20" viewBox="0 0 36 26" preserveAspectRatio="none"><rect width="36" height="26" fill="#EEE"/><rect y="0" width="36" height="2" fill="#B22334"/><rect y="4" width="36" height="2" fill="#B22334"/><rect y="8" width="36" height="2" fill="#B22334"/><rect y="12" width="36" height="2" fill="#B22334"/><rect y="16" width="36" height="2" fill="#B22334"/><rect y="20" width="36" height="2" fill="#B22334"/><rect y="24" width="36" height="2" fill="#B22334"/><rect width="17.600" height="14" fill="#3C3B6E"/><circle cx="2.20" cy="1.90" r=".7" fill="#fff"/><circle cx="5.50" cy="1.90" r=".7" fill="#fff"/><circle cx="8.80" cy="1.90" r=".7" fill="#fff"/><circle cx="12.10" cy="1.90" r=".7" fill="#fff"/><circle cx="15.40" cy="1.90" r=".7" fill="#fff"/><circle cx="3.85" cy="4.45" r=".7" fill="#fff"/><circle cx="7.15" cy="4.45" r=".7" fill="#fff"/><circle cx="10.45" cy="4.45" r=".7" fill="#fff"/><circle cx="13.75" cy="4.45" r=".7" fill="#fff"/><circle cx="2.20" cy="7.00" r=".7" fill="#fff"/><circle cx="5.50" cy="7.00" r=".7" fill="#fff"/><circle cx="8.80" cy="7.00" r=".7" fill="#fff"/><circle cx="12.10" cy="7.00" r=".7" fill="#fff"/><circle cx="15.40" cy="7.00" r=".7" fill="#fff"/><circle cx="3.85" cy="9.55" r=".7" fill="#fff"/><circle cx="7.15" cy="9.55" r=".7" fill="#fff"/><circle cx="10.45" cy="9.55" r=".7" fill="#fff"/><circle cx="13.75" cy="9.55" r=".7" fill="#fff"/><circle cx="2.20" cy="12.10" r=".7" fill="#fff"/><circle cx="5.50" cy="12.10" r=".7" fill="#fff"/><circle cx="8.80" cy="12.10" r=".7" fill="#fff"/><circle cx="12.10" cy="12.10" r=".7" fill="#fff"/><circle cx="15.40" cy="12.10" r=".7" fill="#fff"/></svg>
<div class="t " style="left:177px;top:2613px;width:620px;">【美国家宽<span class="hy">-</span><span class="up">AWS</span><span class="cb">】</span><span class="dg">2</span>.<span class="dg">5</span><span class="lc">x</span></div>
<div class="t c ty" style="left:798px;top:2612px;width:269px;">Shadowsocks</div>
<div class="cc dl" style="left:1067px;top:2612px;width:177px;background:#31da5f">284ms</div>
<div class="cc dl" style="left:1244px;top:2612px;width:222px;background:#879937">783ms</div>
<div class="cc ds" style="left:1466px;top:2612px;width:200px;background:#e1f8e9">49.81KB</div>
<div class="cc ds" style="left:1666px;top:2612px;width:200px;background:#e0f8e9">75.46KB</div>
<div class="t c ix" style="left:0px;top:2670px;width:118px;">45</div>
<svg class="fl" style="left:143px;top:2688px" width="28" height="20" viewBox="0 0 36 26" preserveAspectRatio="none"><rect width="36" height="26" fill="#ED1F24"/><rect width="36" height="8.8" fill="#141414"/><rect y="17.3" width="36" height="8.7" fill="#FFCD05"/></svg>
<div class="t " style="left:177px;top:2671px;width:620px;">【德国原生<span class="hy">-</span><span class="lc">V</span><span class="dg">6</span><span class="cb">】</span><span class="dg">1</span>.<span class="dg">5</span><span class="lc">x</span></div>
<div class="t c ty" style="left:798px;top:2670px;width:269px;">Shadowsocks</div>
<div class="cc dl" style="left:1067px;top:2670px;width:177px;background:#ff3e00">-</div>
<div class="cc dl" style="left:1244px;top:2670px;width:222px;background:#ff3e00">-</div>
<div class="cc ds" style="left:1466px;top:2670px;width:200px;background:#696969">0.00B</div>
<div class="cc ds" style="left:1666px;top:2670px;width:200px;background:#696969">0.00B</div>
<div class="t c ix" style="left:0px;top:2728px;width:118px;">46</div>
<svg class="fl" style="left:143px;top:2746px" width="28" height="20" viewBox="0 0 36 26" preserveAspectRatio="none"><rect width="36" height="26" fill="#00247D"/><path stroke="#EEE" stroke-width="5.2" d="M0 0L36 26M36 0L0 26"/><path stroke="#CF1B2B" stroke-width="1.7" d="M0 0L36 26M36 0L0 26"/><path fill="#EEE" d="M13.5 0h9v26h-9zM0 8.5h36v9H0z"/><path fill="#CF1B2B" d="M15.3 0h5.4v26h-5.4zM0 10.4h36v5.2H0z"/></svg>
<div class="t " style="left:177px;top:2729px;width:620px;">【英国原生<span class="hy">-</span><span class="dg">01</span><span class="cb">】</span><span class="dg">1</span>.<span class="dg">5</span><span class="lc">x</span></div>
<div class="t c ty" style="left:798px;top:2728px;width:269px;">Shadowsocks</div>
<div class="cc dl" style="left:1067px;top:2728px;width:177px;background:#3ed059">360ms</div>
<div class="cc dl" style="left:1244px;top:2728px;width:222px;background:#af7b25">1013ms</div>
<div class="cc ds" style="left:1466px;top:2728px;width:200px;background:#77f8a7">10.79MB</div>
<div class="cc ds" style="left:1666px;top:2728px;width:200px;background:#5af895">13.75MB</div>
<div class="b" style="left:1879px;top:2779.0px;width:12px;height:5.0px;background:#b4f8cd"></div>
<div class="b" style="left:1891px;top:2769.7px;width:12px;height:14.3px;background:#62f89a"></div>
<div class="b" style="left:1903px;top:2770.5px;width:12px;height:13.5px;background:#69f89e"></div>
<div class="b" style="left:1915px;top:2768.7px;width:12px;height:15.3px;background:#59f894"></div>
<div class="b" style="left:1927px;top:2770.5px;width:12px;height:13.5px;background:#69f89e"></div>
<div class="b" style="left:1939px;top:2770.5px;width:12px;height:13.5px;background:#69f89e"></div>
<div class="b" style="left:1951px;top:2771.5px;width:12px;height:12.5px;background:#72f8a4"></div>
<div class="b" style="left:1963px;top:2769.7px;width:12px;height:14.3px;background:#62f89a"></div>
<div class="b" style="left:1975px;top:2768.7px;width:13px;height:15.3px;background:#59f894"></div>
<div class="b" style="left:1988px;top:2771.0px;width:12px;height:13.0px;background:#6df8a1"></div>
<div class="b" style="left:2000px;top:2771.0px;width:12px;height:13.0px;background:#6df8a1"></div>
<div class="b" style="left:2012px;top:2771.0px;width:12px;height:13.0px;background:#6df8a1"></div>
<div class="b" style="left:2024px;top:2768.7px;width:12px;height:15.3px;background:#59f894"></div>
<div class="b" style="left:2036px;top:2778.0px;width:14px;height:6.0px;background:#acf8c8"></div>
<div class="t c ix" style="left:0px;top:2786px;width:118px;">47</div>
<svg class="fl" style="left:143px;top:2804px" width="28" height="20" viewBox="0 0 36 26" preserveAspectRatio="none"><rect width="36" height="26" fill="#00247D"/><path stroke="#EEE" stroke-width="5.2" d="M0 0L36 26M36 0L0 26"/><path stroke="#CF1B2B" stroke-width="1.7" d="M0 0L36 26M36 0L0 26"/><path fill="#EEE" d="M13.5 0h9v26h-9zM0 8.5h36v9H0z"/><path fill="#CF1B2B" d="M15.3 0h5.4v26h-5.4zM0 10.4h36v5.2H0z"/></svg>
<div class="t " style="left:177px;top:2787px;width:620px;">【英国原生<span class="hy">-</span><span class="dg">02</span><span class="cb">】</span><span class="dg">2</span><span class="lc">x</span></div>
<div class="t c ty" style="left:798px;top:2786px;width:269px;">Shadowsocks</div>
<div class="cc dl" style="left:1067px;top:2786px;width:177px;background:#40ce58">373ms</div>
<div class="cc dl" style="left:1244px;top:2786px;width:222px;background:#b47722">1044ms</div>
<div class="cc ds" style="left:1466px;top:2786px;width:200px;background:#6df8a1">11.80MB</div>
<div class="cc ds" style="left:1666px;top:2786px;width:200px;background:#47f889">15.72MB</div>
<div class="b" style="left:1879px;top:2835.5px;width:12px;height:6.5px;background:#a7f8c5"></div>
<div class="b" style="left:1891px;top:2827.0px;width:12px;height:15.0px;background:#5bf896"></div>
<div class="b" style="left:1903px;top:2825.2px;width:12px;height:16.8px;background:#4bf88c"></div>
<div class="b" style="left:1915px;top:2829.3px;width:12px;height:12.7px;background:#70f8a3"></div>
<div class="b" style="left:1927px;top:2827.0px;width:12px;height:15.0px;background:#5bf896"></div>
<div class="b" style="left:1939px;top:2827.0px;width:12px;height:15.0px;background:#5bf896"></div>
<div class="b" style="left:1951px;top:2830.2px;width:12px;height:11.8px;background:#78f8a8"></div>
<div class="b" style="left:1963px;top:2826.2px;width:12px;height:15.8px;background:#54f892"></div>
<div class="b" style="left:1975px;top:2828.3px;width:13px;height:13.7px;background:#67f89d"></div>
<div class="b" style="left:1988px;top:2825.2px;width:12px;height:16.8px;background:#4bf88c"></div>
<div class="b" style="left:2000px;top:2829.3px;width:12px;height:12.7px;background:#70f8a3"></div>
<div class="b" style="left:2012px;top:2826.2px;width:12px;height:15.8px;background:#54f892"></div>
<div class="b" style="left:2024px;top:2828.3px;width:12px;height:13.7px;background:#67f89d"></div>
<div class="b" style="left:2036px;top:2836.4px;width:14px;height:5.6px;background:#aff8ca"></div>
<div class="t c ix" style="left:0px;top:2844px;width:118px;">48</div>
<svg class="fl" style="left:143px;top:2862px" width="28" height="20" viewBox="0 0 36 26" preserveAspectRatio="none"><rect width="36" height="26" fill="#00247D"/><path stroke="#EEE" stroke-width="5.2" d="M0 0L36 26M36 0L0 26"/><path stroke="#CF1B2B" stroke-width="1.7" d="M0 0L36 26M36 0L0 26"/><path fill="#EEE" d="M13.5 0h9v26h-9zM0 8.5h36v9H0z"/><path fill="#CF1B2B" d="M15.3 0h5.4v26h-5.4zM0 10.4h36v5.2H0z"/></svg>
<div class="t " style="left:177px;top:2845px;width:620px;">【英国原生<span class="lc">V</span><span class="dg">6</span><span class="hy">-</span><span class="dg">01</span><span class="cb">】</span><span class="dg">1</span>.<span class="dg">5</span><span class="lc">x</span></div>
<div class="t c ty" style="left:798px;top:2844px;width:269px;">Shadowsocks</div>
<div class="cc dl" style="left:1067px;top:2844px;width:177px;background:#ff3e00">-</div>
<div class="cc dl" style="left:1244px;top:2844px;width:222px;background:#ff3e00">-</div>
<div class="cc ds" style="left:1466px;top:2844px;width:200px;background:#696969">0.00B</div>
<div class="cc ds" style="left:1666px;top:2844px;width:200px;background:#696969">0.00B</div>
<div class="t c ix" style="left:0px;top:2902px;width:118px;">49</div>
<svg class="fl" style="left:143px;top:2920px" width="28" height="20" viewBox="0 0 36 26" preserveAspectRatio="none"><rect width="36" height="26" fill="#00247D"/><path stroke="#EEE" stroke-width="5.2" d="M0 0L36 26M36 0L0 26"/><path stroke="#CF1B2B" stroke-width="1.7" d="M0 0L36 26M36 0L0 26"/><path fill="#EEE" d="M13.5 0h9v26h-9zM0 8.5h36v9H0z"/><path fill="#CF1B2B" d="M15.3 0h5.4v26h-5.4zM0 10.4h36v5.2H0z"/></svg>
<div class="t " style="left:177px;top:2903px;width:620px;">【英国原生<span class="lc">V</span><span class="dg">6</span><span class="hy">-</span><span class="dg">02</span><span class="cb">】</span><span class="dg">2</span><span class="lc">x</span></div>
<div class="t c ty" style="left:798px;top:2902px;width:269px;">Shadowsocks</div>
<div class="cc dl" style="left:1067px;top:2902px;width:177px;background:#ff3e00">-</div>
<div class="cc dl" style="left:1244px;top:2902px;width:222px;background:#ff3e00">-</div>
<div class="cc ds" style="left:1466px;top:2902px;width:200px;background:#696969">0.00B</div>
<div class="cc ds" style="left:1666px;top:2902px;width:200px;background:#696969">0.00B</div>
<div class="t c ix" style="left:0px;top:2960px;width:118px;">50</div>
<svg class="fl" style="left:143px;top:2978px" width="28" height="20" viewBox="0 0 36 26" preserveAspectRatio="none"><rect width="36" height="26" fill="#EEE"/><rect width="12" height="26" fill="#002495"/><rect x="24" width="12" height="26" fill="#ED2939"/></svg>
<div class="t " style="left:177px;top:2961px;width:620px;">【法国原生<span class="hy">-</span><span class="lc">V</span><span class="dg">6</span><span class="cb">】</span><span class="dg">1</span>.<span class="dg">5</span><span class="lc">x</span></div>
<div class="t c ty" style="left:798px;top:2960px;width:269px;">Shadowsocks</div>
<div class="cc dl" style="left:1067px;top:2960px;width:177px;background:#ff3e00">-</div>
<div class="cc dl" style="left:1244px;top:2960px;width:222px;background:#ff3e00">-</div>
<div class="cc ds" style="left:1466px;top:2960px;width:200px;background:#696969">0.00B</div>
<div class="cc ds" style="left:1666px;top:2960px;width:200px;background:#696969">0.00B</div>
<div class="b" style="left:25px;top:3032px;width:29.5px;height:28.5px;border-radius:4px;background:#77b255"></div>
<svg class="b" style="left:25px;top:3032px" width="29.5" height="28.5" viewBox="0 0 27 27"><path d="M6 14.5l4.800 5L21 7.500" fill="none" stroke="#fff" stroke-width="3.600" stroke-linecap="round" stroke-linejoin="round"/></svg>
<div class="t " style="left:72px;top:3019px;width:1900px;">已核实 <span style="letter-spacing:-2.5px">TLS</span> 证书。<span style="letter-spacing:-2.5px">TLS</span> <span style="letter-spacing:-2.5px">RTT</span> 为单次数据交换延迟， <span style="letter-spacing:-2px">HTTPS</span> Ping 为单次请求体感延迟。</div>
<div class="t " style="left:19px;top:3077px;width:2020px;letter-spacing:.68px">主端=4.3.3 (696) 喵速=5.0.0-beta6 (<span style="display:inline-block;width:7px;height:21px;border:1.5px solid #333;margin:0 2px 0 3px;vertical-align:-2px"></span>华北-陕西联通 [1Gbps][x1]), 线程=1 概要=50/50 排序=订阅原序 过滤器=</div>
<div class="t " style="left:19px;top:3135px;width:2020px;">测试时间：<span style="letter-spacing:1.6px">2025-09-20</span> 21:22:51 <span style="letter-spacing:-3px">(CST)</span>，本测试为试验性结果，仅供参考。</div>
<div class="vl" style="left:117px;top:116px;height:2902px;background:rgba(255,255,255,.85)"></div>
<div class="vl" style="left:117px;top:58px;height:2px;background:#ebebeb"></div>
<div class="vl" style="left:797px;top:116px;height:2902px;background:rgba(255,255,255,.85)"></div>
<div class="vl" style="left:797px;top:58px;height:2px;background:#ebebeb"></div>
<div class="vl" style="left:1066px;top:116px;height:2902px;background:rgba(255,255,255,.85)"></div>
<div class="vl" style="left:1066px;top:58px;height:2px;background:#ebebeb"></div>
<div class="vl" style="left:1243px;top:116px;height:2902px;background:rgba(255,255,255,.85)"></div>
<div class="vl" style="left:1243px;top:58px;height:2px;background:#ebebeb"></div>
<div class="vl" style="left:1465px;top:116px;height:2902px;background:rgba(255,255,255,.85)"></div>
<div class="vl" style="left:1465px;top:58px;height:2px;background:#ebebeb"></div>
<div class="vl" style="left:1665px;top:116px;height:2902px;background:rgba(255,255,255,.85)"></div>
<div class="vl" style="left:1665px;top:58px;height:2px;background:#ebebeb"></div>
<div class="vl" style="left:1865px;top:116px;height:2902px;background:rgba(255,255,255,.85)"></div>
<div class="vl" style="left:1865px;top:58px;height:2px;background:#ebebeb"></div>
<div class="wm" style="left:676px;top:53.7px"><span>FFQ.LA</span> Test Center</div>
<div class="wm" style="left:676px;top:364.6px"><span>FFQ.LA</span> Test Center</div>
<div class="wm" style="left:676px;top:675.5px"><span>FFQ.LA</span> Test Center</div>
<div class="wm" style="left:676px;top:986.4px"><span>FFQ.LA</span> Test Center</div>
<div class="wm" style="left:676px;top:1297.3px"><span>FFQ.LA</span> Test Center</div>
<div class="wm" style="left:676px;top:1608.2px"><span>FFQ.LA</span> Test Center</div>
<div class="wm" style="left:676px;top:1919.1px"><span>FFQ.LA</span> Test Center</div>
<div class="wm" style="left:676px;top:2230.0px"><span>FFQ.LA</span> Test Center</div>
<div class="wm" style="left:676px;top:2540.9px"><span>FFQ.LA</span> Test Center</div>
<div class="wm" style="left:676px;top:2851.8px"><span>FFQ.LA</span> Test Center</div>
<div class="wm" style="left:676px;top:3162.7px"><span>FFQ.LA</span> Test Center</div>
<div style="position:absolute;left:0;top:0;width:2052px;height:3192px;box-sizing:border-box;border:2px solid #000"></div>
<div style="position:absolute;left:2px;top:2px;width:2048px;height:3188px;box-sizing:border-box;border:1px solid #fff"></div>
</div></body></html>
